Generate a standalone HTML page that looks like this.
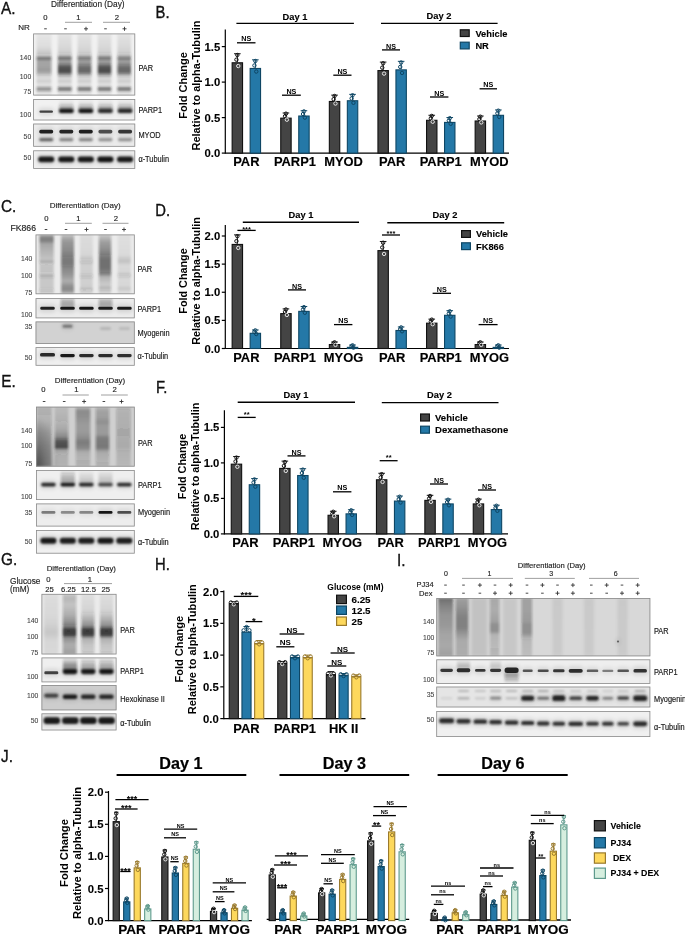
<!DOCTYPE html>
<html><head><meta charset="utf-8"><title>Figure</title>
<style>html,body{margin:0;padding:0;background:#fff;}body{width:685px;height:935px;overflow:hidden;}svg{display:block;filter:blur(0.35px);}
text{font-family:"Liberation Sans",Arial,sans-serif;}</style></head>
<body>
<svg width="685" height="935" viewBox="0 0 685 935" font-family="'Liberation Sans', Arial, sans-serif"><defs><filter id="b0_4" x="-100%" y="-100%" width="300%" height="300%"><feGaussianBlur stdDeviation="0.4"/></filter><filter id="b0_6" x="-100%" y="-100%" width="300%" height="300%"><feGaussianBlur stdDeviation="0.6"/></filter><filter id="b0_8" x="-100%" y="-100%" width="300%" height="300%"><feGaussianBlur stdDeviation="0.8"/></filter><filter id="b1_0" x="-100%" y="-100%" width="300%" height="300%"><feGaussianBlur stdDeviation="1"/></filter><filter id="b1_3" x="-100%" y="-100%" width="300%" height="300%"><feGaussianBlur stdDeviation="1.3"/></filter><filter id="b1_6" x="-100%" y="-100%" width="300%" height="300%"><feGaussianBlur stdDeviation="1.6"/></filter><filter id="b2_0" x="-100%" y="-100%" width="300%" height="300%"><feGaussianBlur stdDeviation="2"/></filter><filter id="b2_5" x="-100%" y="-100%" width="300%" height="300%"><feGaussianBlur stdDeviation="2.5"/></filter><filter id="b3_0" x="-100%" y="-100%" width="300%" height="300%"><feGaussianBlur stdDeviation="3"/></filter><filter id="b4_0" x="-100%" y="-100%" width="300%" height="300%"><feGaussianBlur stdDeviation="4"/></filter><linearGradient id="g1" x1="0" y1="0" x2="0" y2="1"><stop offset="0" stop-color="#1c1c1c" stop-opacity="0.05"/><stop offset="0.2" stop-color="#1c1c1c" stop-opacity="0.08"/><stop offset="0.29" stop-color="#1c1c1c" stop-opacity="0.15"/><stop offset="0.37" stop-color="#1c1c1c" stop-opacity="0.25"/><stop offset="0.38" stop-color="#1c1c1c" stop-opacity="0.6"/><stop offset="0.41" stop-color="#1c1c1c" stop-opacity="0.6"/><stop offset="0.43" stop-color="#1c1c1c" stop-opacity="0.36"/><stop offset="0.52" stop-color="#1c1c1c" stop-opacity="0.36"/><stop offset="0.59" stop-color="#1c1c1c" stop-opacity="0.4"/><stop offset="0.64" stop-color="#1c1c1c" stop-opacity="0.32"/><stop offset="0.68" stop-color="#1c1c1c" stop-opacity="0.12"/><stop offset="0.73" stop-color="#1c1c1c" stop-opacity="0.08"/><stop offset="0.76" stop-color="#1c1c1c" stop-opacity="0.15"/><stop offset="0.78" stop-color="#1c1c1c" stop-opacity="0.15"/><stop offset="0.8" stop-color="#1c1c1c" stop-opacity="0.07"/><stop offset="0.86" stop-color="#1c1c1c" stop-opacity="0.08"/><stop offset="0.87" stop-color="#1c1c1c" stop-opacity="0.42"/><stop offset="0.92" stop-color="#1c1c1c" stop-opacity="0.42"/><stop offset="0.93" stop-color="#1c1c1c" stop-opacity="0.08"/><stop offset="1" stop-color="#1c1c1c" stop-opacity="0.06"/></linearGradient><linearGradient id="g2" x1="0" y1="0" x2="0" y2="1"><stop offset="0" stop-color="#1c1c1c" stop-opacity="0.06"/><stop offset="0.2" stop-color="#1c1c1c" stop-opacity="0.1"/><stop offset="0.29" stop-color="#1c1c1c" stop-opacity="0.14"/><stop offset="0.36" stop-color="#1c1c1c" stop-opacity="0.26"/><stop offset="0.38" stop-color="#1c1c1c" stop-opacity="0.62"/><stop offset="0.41" stop-color="#1c1c1c" stop-opacity="0.62"/><stop offset="0.43" stop-color="#1c1c1c" stop-opacity="0.36"/><stop offset="0.47" stop-color="#1c1c1c" stop-opacity="0.42"/><stop offset="0.51" stop-color="#1c1c1c" stop-opacity="0.62"/><stop offset="0.54" stop-color="#1c1c1c" stop-opacity="0.74"/><stop offset="0.62" stop-color="#1c1c1c" stop-opacity="0.78"/><stop offset="0.66" stop-color="#1c1c1c" stop-opacity="0.39"/><stop offset="0.7" stop-color="#1c1c1c" stop-opacity="0.15"/><stop offset="0.73" stop-color="#1c1c1c" stop-opacity="0.08"/><stop offset="0.76" stop-color="#1c1c1c" stop-opacity="0.16"/><stop offset="0.78" stop-color="#1c1c1c" stop-opacity="0.16"/><stop offset="0.8" stop-color="#1c1c1c" stop-opacity="0.07"/><stop offset="0.86" stop-color="#1c1c1c" stop-opacity="0.1"/><stop offset="0.87" stop-color="#1c1c1c" stop-opacity="0.55"/><stop offset="0.92" stop-color="#1c1c1c" stop-opacity="0.55"/><stop offset="0.93" stop-color="#1c1c1c" stop-opacity="0.1"/><stop offset="1" stop-color="#1c1c1c" stop-opacity="0.06"/></linearGradient><linearGradient id="g3" x1="0" y1="0" x2="0" y2="1"><stop offset="0" stop-color="#1c1c1c" stop-opacity="0.06"/><stop offset="0.2" stop-color="#1c1c1c" stop-opacity="0.1"/><stop offset="0.29" stop-color="#1c1c1c" stop-opacity="0.14"/><stop offset="0.36" stop-color="#1c1c1c" stop-opacity="0.26"/><stop offset="0.38" stop-color="#1c1c1c" stop-opacity="0.58"/><stop offset="0.41" stop-color="#1c1c1c" stop-opacity="0.58"/><stop offset="0.43" stop-color="#1c1c1c" stop-opacity="0.36"/><stop offset="0.47" stop-color="#1c1c1c" stop-opacity="0.42"/><stop offset="0.51" stop-color="#1c1c1c" stop-opacity="0.53"/><stop offset="0.54" stop-color="#1c1c1c" stop-opacity="0.63"/><stop offset="0.62" stop-color="#1c1c1c" stop-opacity="0.66"/><stop offset="0.66" stop-color="#1c1c1c" stop-opacity="0.33"/><stop offset="0.7" stop-color="#1c1c1c" stop-opacity="0.15"/><stop offset="0.73" stop-color="#1c1c1c" stop-opacity="0.08"/><stop offset="0.76" stop-color="#1c1c1c" stop-opacity="0.16"/><stop offset="0.78" stop-color="#1c1c1c" stop-opacity="0.16"/><stop offset="0.8" stop-color="#1c1c1c" stop-opacity="0.07"/><stop offset="0.86" stop-color="#1c1c1c" stop-opacity="0.1"/><stop offset="0.87" stop-color="#1c1c1c" stop-opacity="0.55"/><stop offset="0.92" stop-color="#1c1c1c" stop-opacity="0.55"/><stop offset="0.93" stop-color="#1c1c1c" stop-opacity="0.1"/><stop offset="1" stop-color="#1c1c1c" stop-opacity="0.06"/></linearGradient><linearGradient id="g4" x1="0" y1="0" x2="0" y2="1"><stop offset="0" stop-color="#1c1c1c" stop-opacity="0.06"/><stop offset="0.2" stop-color="#1c1c1c" stop-opacity="0.1"/><stop offset="0.29" stop-color="#1c1c1c" stop-opacity="0.14"/><stop offset="0.36" stop-color="#1c1c1c" stop-opacity="0.26"/><stop offset="0.38" stop-color="#1c1c1c" stop-opacity="0.6"/><stop offset="0.41" stop-color="#1c1c1c" stop-opacity="0.6"/><stop offset="0.43" stop-color="#1c1c1c" stop-opacity="0.36"/><stop offset="0.47" stop-color="#1c1c1c" stop-opacity="0.42"/><stop offset="0.51" stop-color="#1c1c1c" stop-opacity="0.62"/><stop offset="0.54" stop-color="#1c1c1c" stop-opacity="0.74"/><stop offset="0.62" stop-color="#1c1c1c" stop-opacity="0.78"/><stop offset="0.66" stop-color="#1c1c1c" stop-opacity="0.39"/><stop offset="0.7" stop-color="#1c1c1c" stop-opacity="0.15"/><stop offset="0.73" stop-color="#1c1c1c" stop-opacity="0.08"/><stop offset="0.76" stop-color="#1c1c1c" stop-opacity="0.16"/><stop offset="0.78" stop-color="#1c1c1c" stop-opacity="0.16"/><stop offset="0.8" stop-color="#1c1c1c" stop-opacity="0.07"/><stop offset="0.86" stop-color="#1c1c1c" stop-opacity="0.1"/><stop offset="0.87" stop-color="#1c1c1c" stop-opacity="0.55"/><stop offset="0.92" stop-color="#1c1c1c" stop-opacity="0.55"/><stop offset="0.93" stop-color="#1c1c1c" stop-opacity="0.1"/><stop offset="1" stop-color="#1c1c1c" stop-opacity="0.06"/></linearGradient><linearGradient id="g5" x1="0" y1="0" x2="0" y2="1"><stop offset="0" stop-color="#1c1c1c" stop-opacity="0.06"/><stop offset="0.2" stop-color="#1c1c1c" stop-opacity="0.1"/><stop offset="0.29" stop-color="#1c1c1c" stop-opacity="0.14"/><stop offset="0.36" stop-color="#1c1c1c" stop-opacity="0.26"/><stop offset="0.38" stop-color="#1c1c1c" stop-opacity="0.56"/><stop offset="0.41" stop-color="#1c1c1c" stop-opacity="0.56"/><stop offset="0.43" stop-color="#1c1c1c" stop-opacity="0.36"/><stop offset="0.47" stop-color="#1c1c1c" stop-opacity="0.42"/><stop offset="0.51" stop-color="#1c1c1c" stop-opacity="0.53"/><stop offset="0.54" stop-color="#1c1c1c" stop-opacity="0.63"/><stop offset="0.62" stop-color="#1c1c1c" stop-opacity="0.66"/><stop offset="0.66" stop-color="#1c1c1c" stop-opacity="0.33"/><stop offset="0.7" stop-color="#1c1c1c" stop-opacity="0.15"/><stop offset="0.73" stop-color="#1c1c1c" stop-opacity="0.08"/><stop offset="0.76" stop-color="#1c1c1c" stop-opacity="0.16"/><stop offset="0.78" stop-color="#1c1c1c" stop-opacity="0.16"/><stop offset="0.8" stop-color="#1c1c1c" stop-opacity="0.07"/><stop offset="0.86" stop-color="#1c1c1c" stop-opacity="0.1"/><stop offset="0.87" stop-color="#1c1c1c" stop-opacity="0.55"/><stop offset="0.92" stop-color="#1c1c1c" stop-opacity="0.55"/><stop offset="0.93" stop-color="#1c1c1c" stop-opacity="0.1"/><stop offset="1" stop-color="#1c1c1c" stop-opacity="0.06"/></linearGradient><clipPath id="c1"><rect x="33.2" y="33.5" width="102" height="62"/></clipPath><linearGradient id="g6" x1="0" y1="0" x2="0" y2="1"><stop offset="0" stop-color="#1c1c1c" stop-opacity="0"/><stop offset="0.29" stop-color="#1c1c1c" stop-opacity="0.06"/><stop offset="0.5" stop-color="#1c1c1c" stop-opacity="0.2"/><stop offset="0.68" stop-color="#1c1c1c" stop-opacity="0.4"/><stop offset="0.82" stop-color="#1c1c1c" stop-opacity="0.3"/><stop offset="1" stop-color="#1c1c1c" stop-opacity="0"/></linearGradient><linearGradient id="g7" x1="0" y1="0" x2="0" y2="1"><stop offset="0" stop-color="#1c1c1c" stop-opacity="0"/><stop offset="0.29" stop-color="#1c1c1c" stop-opacity="0.06"/><stop offset="0.5" stop-color="#1c1c1c" stop-opacity="0.2"/><stop offset="0.68" stop-color="#1c1c1c" stop-opacity="0.4"/><stop offset="0.82" stop-color="#1c1c1c" stop-opacity="0.3"/><stop offset="1" stop-color="#1c1c1c" stop-opacity="0"/></linearGradient><linearGradient id="g8" x1="0" y1="0" x2="0" y2="1"><stop offset="0" stop-color="#1c1c1c" stop-opacity="0"/><stop offset="0.29" stop-color="#1c1c1c" stop-opacity="0.06"/><stop offset="0.5" stop-color="#1c1c1c" stop-opacity="0.2"/><stop offset="0.68" stop-color="#1c1c1c" stop-opacity="0.4"/><stop offset="0.82" stop-color="#1c1c1c" stop-opacity="0.3"/><stop offset="1" stop-color="#1c1c1c" stop-opacity="0"/></linearGradient><linearGradient id="g9" x1="0" y1="0" x2="0" y2="1"><stop offset="0" stop-color="#1c1c1c" stop-opacity="0"/><stop offset="0.29" stop-color="#1c1c1c" stop-opacity="0.06"/><stop offset="0.5" stop-color="#1c1c1c" stop-opacity="0.2"/><stop offset="0.68" stop-color="#1c1c1c" stop-opacity="0.4"/><stop offset="0.82" stop-color="#1c1c1c" stop-opacity="0.3"/><stop offset="1" stop-color="#1c1c1c" stop-opacity="0"/></linearGradient><clipPath id="c2"><rect x="33.2" y="99.1" width="102" height="21.3"/></clipPath><clipPath id="c3"><rect x="33.2" y="123.6" width="102" height="23.1"/></clipPath><clipPath id="c4"><rect x="33.2" y="150.4" width="102" height="18.5"/></clipPath><linearGradient id="g10" x1="0" y1="0" x2="0" y2="1"><stop offset="0" stop-color="#1c1c1c" stop-opacity="0.28"/><stop offset="0.06" stop-color="#1c1c1c" stop-opacity="0.52"/><stop offset="0.12" stop-color="#1c1c1c" stop-opacity="0.48"/><stop offset="0.15" stop-color="#1c1c1c" stop-opacity="0.34"/><stop offset="0.26" stop-color="#1c1c1c" stop-opacity="0.28"/><stop offset="0.42" stop-color="#1c1c1c" stop-opacity="0.2"/><stop offset="0.44" stop-color="#1c1c1c" stop-opacity="0.3"/><stop offset="0.47" stop-color="#1c1c1c" stop-opacity="0.3"/><stop offset="0.49" stop-color="#1c1c1c" stop-opacity="0.16"/><stop offset="0.66" stop-color="#1c1c1c" stop-opacity="0.17"/><stop offset="0.68" stop-color="#1c1c1c" stop-opacity="0.3"/><stop offset="0.71" stop-color="#1c1c1c" stop-opacity="0.3"/><stop offset="0.73" stop-color="#1c1c1c" stop-opacity="0.15"/><stop offset="0.9" stop-color="#1c1c1c" stop-opacity="0.15"/><stop offset="0.91" stop-color="#1c1c1c" stop-opacity="0.22"/><stop offset="0.94" stop-color="#1c1c1c" stop-opacity="0.22"/><stop offset="0.96" stop-color="#1c1c1c" stop-opacity="0.12"/><stop offset="1" stop-color="#1c1c1c" stop-opacity="0.12"/></linearGradient><linearGradient id="g11" x1="0" y1="0" x2="0" y2="1"><stop offset="0" stop-color="#1c1c1c" stop-opacity="0.2"/><stop offset="0.06" stop-color="#1c1c1c" stop-opacity="0.32"/><stop offset="0.12" stop-color="#1c1c1c" stop-opacity="0.4"/><stop offset="0.27" stop-color="#1c1c1c" stop-opacity="0.46"/><stop offset="0.42" stop-color="#1c1c1c" stop-opacity="0.56"/><stop offset="0.5" stop-color="#1c1c1c" stop-opacity="0.56"/><stop offset="0.56" stop-color="#1c1c1c" stop-opacity="0.47"/><stop offset="0.66" stop-color="#1c1c1c" stop-opacity="0.42"/><stop offset="0.78" stop-color="#1c1c1c" stop-opacity="0.3"/><stop offset="0.88" stop-color="#1c1c1c" stop-opacity="0.45"/><stop offset="0.94" stop-color="#1c1c1c" stop-opacity="0.45"/><stop offset="0.97" stop-color="#1c1c1c" stop-opacity="0.3"/><stop offset="1" stop-color="#1c1c1c" stop-opacity="0.25"/></linearGradient><linearGradient id="g12" x1="0" y1="0" x2="0" y2="1"><stop offset="0" stop-color="#1c1c1c" stop-opacity="0.06"/><stop offset="0.34" stop-color="#1c1c1c" stop-opacity="0.09"/><stop offset="0.44" stop-color="#1c1c1c" stop-opacity="0.2"/><stop offset="0.47" stop-color="#1c1c1c" stop-opacity="0.2"/><stop offset="0.51" stop-color="#1c1c1c" stop-opacity="0.11"/><stop offset="0.65" stop-color="#1c1c1c" stop-opacity="0.12"/><stop offset="0.68" stop-color="#1c1c1c" stop-opacity="0.22"/><stop offset="0.71" stop-color="#1c1c1c" stop-opacity="0.22"/><stop offset="0.75" stop-color="#1c1c1c" stop-opacity="0.11"/><stop offset="0.88" stop-color="#1c1c1c" stop-opacity="0.12"/><stop offset="0.9" stop-color="#1c1c1c" stop-opacity="0.2"/><stop offset="0.93" stop-color="#1c1c1c" stop-opacity="0.2"/><stop offset="0.96" stop-color="#1c1c1c" stop-opacity="0.1"/><stop offset="1" stop-color="#1c1c1c" stop-opacity="0.08"/></linearGradient><linearGradient id="g13" x1="0" y1="0" x2="0" y2="1"><stop offset="0" stop-color="#1c1c1c" stop-opacity="0.18"/><stop offset="0.06" stop-color="#1c1c1c" stop-opacity="0.26"/><stop offset="0.12" stop-color="#1c1c1c" stop-opacity="0.36"/><stop offset="0.27" stop-color="#1c1c1c" stop-opacity="0.46"/><stop offset="0.42" stop-color="#1c1c1c" stop-opacity="0.6"/><stop offset="0.56" stop-color="#1c1c1c" stop-opacity="0.6"/><stop offset="0.66" stop-color="#1c1c1c" stop-opacity="0.5"/><stop offset="0.71" stop-color="#1c1c1c" stop-opacity="0.27"/><stop offset="0.85" stop-color="#1c1c1c" stop-opacity="0.16"/><stop offset="0.88" stop-color="#1c1c1c" stop-opacity="0.25"/><stop offset="0.91" stop-color="#1c1c1c" stop-opacity="0.25"/><stop offset="0.95" stop-color="#1c1c1c" stop-opacity="0.12"/><stop offset="1" stop-color="#1c1c1c" stop-opacity="0.1"/></linearGradient><linearGradient id="g14" x1="0" y1="0" x2="0" y2="1"><stop offset="0" stop-color="#1c1c1c" stop-opacity="0.05"/><stop offset="0.34" stop-color="#1c1c1c" stop-opacity="0.07"/><stop offset="0.43" stop-color="#1c1c1c" stop-opacity="0.17"/><stop offset="0.46" stop-color="#1c1c1c" stop-opacity="0.17"/><stop offset="0.51" stop-color="#1c1c1c" stop-opacity="0.08"/><stop offset="0.64" stop-color="#1c1c1c" stop-opacity="0.09"/><stop offset="0.66" stop-color="#1c1c1c" stop-opacity="0.19"/><stop offset="0.7" stop-color="#1c1c1c" stop-opacity="0.19"/><stop offset="0.73" stop-color="#1c1c1c" stop-opacity="0.08"/><stop offset="0.87" stop-color="#1c1c1c" stop-opacity="0.09"/><stop offset="0.89" stop-color="#1c1c1c" stop-opacity="0.15"/><stop offset="0.92" stop-color="#1c1c1c" stop-opacity="0.15"/><stop offset="0.95" stop-color="#1c1c1c" stop-opacity="0.07"/><stop offset="1" stop-color="#1c1c1c" stop-opacity="0.06"/></linearGradient><clipPath id="c5"><rect x="35.6" y="234.5" width="99.1" height="59.7"/></clipPath><linearGradient id="g15" x1="0" y1="0" x2="0" y2="1"><stop offset="0" stop-color="#1c1c1c" stop-opacity="0.12"/><stop offset="0.27" stop-color="#1c1c1c" stop-opacity="0.28"/><stop offset="0.55" stop-color="#1c1c1c" stop-opacity="0.3"/><stop offset="0.77" stop-color="#1c1c1c" stop-opacity="0.25"/><stop offset="1" stop-color="#1c1c1c" stop-opacity="0"/></linearGradient><linearGradient id="g16" x1="0" y1="0" x2="0" y2="1"><stop offset="0" stop-color="#1c1c1c" stop-opacity="0.12"/><stop offset="0.27" stop-color="#1c1c1c" stop-opacity="0.28"/><stop offset="0.55" stop-color="#1c1c1c" stop-opacity="0.3"/><stop offset="0.77" stop-color="#1c1c1c" stop-opacity="0.25"/><stop offset="1" stop-color="#1c1c1c" stop-opacity="0"/></linearGradient><clipPath id="c6"><rect x="35.6" y="298.2" width="99.1" height="20.1"/></clipPath><clipPath id="c7"><rect x="35.6" y="321.5" width="99.1" height="22.5"/></clipPath><clipPath id="c8"><rect x="35.6" y="347.2" width="99.1" height="18.5"/></clipPath><linearGradient id="g17" x1="0" y1="0" x2="0" y2="1"><stop offset="0" stop-color="#1c1c1c" stop-opacity="0.14"/><stop offset="0.22" stop-color="#1c1c1c" stop-opacity="0.18"/><stop offset="0.42" stop-color="#1c1c1c" stop-opacity="0.28"/><stop offset="0.64" stop-color="#1c1c1c" stop-opacity="0.32"/><stop offset="1" stop-color="#1c1c1c" stop-opacity="0.34"/></linearGradient><linearGradient id="g18" x1="0" y1="0" x2="0" y2="1"><stop offset="0" stop-color="#1c1c1c" stop-opacity="0.1"/><stop offset="0.22" stop-color="#1c1c1c" stop-opacity="0.15"/><stop offset="0.39" stop-color="#1c1c1c" stop-opacity="0.24"/><stop offset="0.51" stop-color="#1c1c1c" stop-opacity="0.4"/><stop offset="0.57" stop-color="#1c1c1c" stop-opacity="0.68"/><stop offset="0.69" stop-color="#1c1c1c" stop-opacity="0.75"/><stop offset="0.71" stop-color="#1c1c1c" stop-opacity="0.3"/><stop offset="0.81" stop-color="#1c1c1c" stop-opacity="0.16"/><stop offset="1" stop-color="#1c1c1c" stop-opacity="0.14"/></linearGradient><linearGradient id="g19" x1="0" y1="0" x2="0" y2="1"><stop offset="0" stop-color="#1c1c1c" stop-opacity="0.15"/><stop offset="0.07" stop-color="#1c1c1c" stop-opacity="0.38"/><stop offset="0.16" stop-color="#1c1c1c" stop-opacity="0.36"/><stop offset="0.29" stop-color="#1c1c1c" stop-opacity="0.3"/><stop offset="0.42" stop-color="#1c1c1c" stop-opacity="0.3"/><stop offset="0.51" stop-color="#1c1c1c" stop-opacity="0.36"/><stop offset="0.59" stop-color="#1c1c1c" stop-opacity="0.46"/><stop offset="0.69" stop-color="#1c1c1c" stop-opacity="0.4"/><stop offset="0.76" stop-color="#1c1c1c" stop-opacity="0.2"/><stop offset="1" stop-color="#1c1c1c" stop-opacity="0.14"/></linearGradient><linearGradient id="g20" x1="0" y1="0" x2="0" y2="1"><stop offset="0" stop-color="#1c1c1c" stop-opacity="0.15"/><stop offset="0.07" stop-color="#1c1c1c" stop-opacity="0.26"/><stop offset="0.17" stop-color="#1c1c1c" stop-opacity="0.28"/><stop offset="0.26" stop-color="#1c1c1c" stop-opacity="0.36"/><stop offset="0.32" stop-color="#1c1c1c" stop-opacity="0.3"/><stop offset="0.46" stop-color="#1c1c1c" stop-opacity="0.3"/><stop offset="0.52" stop-color="#1c1c1c" stop-opacity="0.45"/><stop offset="0.68" stop-color="#1c1c1c" stop-opacity="0.48"/><stop offset="0.76" stop-color="#1c1c1c" stop-opacity="0.22"/><stop offset="1" stop-color="#1c1c1c" stop-opacity="0.14"/></linearGradient><linearGradient id="g21" x1="0" y1="0" x2="0" y2="1"><stop offset="0" stop-color="#1c1c1c" stop-opacity="0.1"/><stop offset="0.07" stop-color="#1c1c1c" stop-opacity="0.18"/><stop offset="0.39" stop-color="#1c1c1c" stop-opacity="0.2"/><stop offset="0.67" stop-color="#1c1c1c" stop-opacity="0.22"/><stop offset="0.76" stop-color="#1c1c1c" stop-opacity="0.14"/><stop offset="1" stop-color="#1c1c1c" stop-opacity="0.12"/></linearGradient><clipPath id="c9"><rect x="36.1" y="406.7" width="98.6" height="59.9"/></clipPath><linearGradient id="g22" x1="0" y1="0" x2="0" y2="1"><stop offset="0" stop-color="#1c1c1c" stop-opacity="0"/><stop offset="0.27" stop-color="#1c1c1c" stop-opacity="0.17"/><stop offset="0.53" stop-color="#1c1c1c" stop-opacity="0.28"/><stop offset="0.8" stop-color="#1c1c1c" stop-opacity="0.28"/><stop offset="1" stop-color="#1c1c1c" stop-opacity="0"/></linearGradient><linearGradient id="g23" x1="0" y1="0" x2="0" y2="1"><stop offset="0" stop-color="#1c1c1c" stop-opacity="0"/><stop offset="0.27" stop-color="#1c1c1c" stop-opacity="0.07"/><stop offset="0.53" stop-color="#1c1c1c" stop-opacity="0.12"/><stop offset="0.8" stop-color="#1c1c1c" stop-opacity="0.12"/><stop offset="1" stop-color="#1c1c1c" stop-opacity="0"/></linearGradient><linearGradient id="g24" x1="0" y1="0" x2="0" y2="1"><stop offset="0" stop-color="#1c1c1c" stop-opacity="0"/><stop offset="0.27" stop-color="#1c1c1c" stop-opacity="0.08"/><stop offset="0.53" stop-color="#1c1c1c" stop-opacity="0.14"/><stop offset="0.8" stop-color="#1c1c1c" stop-opacity="0.14"/><stop offset="1" stop-color="#1c1c1c" stop-opacity="0"/></linearGradient><clipPath id="c10"><rect x="36.1" y="470.1" width="98.6" height="29.9"/></clipPath><clipPath id="c11"><rect x="36.1" y="503.5" width="98.6" height="23"/></clipPath><clipPath id="c12"><rect x="36.1" y="530" width="98.6" height="23.6"/></clipPath><linearGradient id="g25" x1="0" y1="0" x2="0" y2="1"><stop offset="0" stop-color="#1c1c1c" stop-opacity="0.06"/><stop offset="0.35" stop-color="#1c1c1c" stop-opacity="0.08"/><stop offset="0.51" stop-color="#1c1c1c" stop-opacity="0.11"/><stop offset="0.6" stop-color="#1c1c1c" stop-opacity="0.15"/><stop offset="0.66" stop-color="#1c1c1c" stop-opacity="0.15"/><stop offset="0.76" stop-color="#1c1c1c" stop-opacity="0.09"/><stop offset="1" stop-color="#1c1c1c" stop-opacity="0.08"/></linearGradient><linearGradient id="g26" x1="0" y1="0" x2="0" y2="1"><stop offset="0" stop-color="#1c1c1c" stop-opacity="0.18"/><stop offset="0.07" stop-color="#1c1c1c" stop-opacity="0.26"/><stop offset="0.18" stop-color="#1c1c1c" stop-opacity="0.2"/><stop offset="0.35" stop-color="#1c1c1c" stop-opacity="0.3"/><stop offset="0.46" stop-color="#1c1c1c" stop-opacity="0.42"/><stop offset="0.55" stop-color="#1c1c1c" stop-opacity="0.58"/><stop offset="0.59" stop-color="#1c1c1c" stop-opacity="0.85"/><stop offset="0.68" stop-color="#1c1c1c" stop-opacity="0.85"/><stop offset="0.72" stop-color="#1c1c1c" stop-opacity="0.45"/><stop offset="0.84" stop-color="#1c1c1c" stop-opacity="0.3"/><stop offset="0.96" stop-color="#1c1c1c" stop-opacity="0.35"/><stop offset="1" stop-color="#1c1c1c" stop-opacity="0.4"/></linearGradient><linearGradient id="g27" x1="0" y1="0" x2="0" y2="1"><stop offset="0" stop-color="#1c1c1c" stop-opacity="0.05"/><stop offset="0.27" stop-color="#1c1c1c" stop-opacity="0.1"/><stop offset="0.43" stop-color="#1c1c1c" stop-opacity="0.3"/><stop offset="0.53" stop-color="#1c1c1c" stop-opacity="0.45"/><stop offset="0.59" stop-color="#1c1c1c" stop-opacity="0.85"/><stop offset="0.68" stop-color="#1c1c1c" stop-opacity="0.85"/><stop offset="0.73" stop-color="#1c1c1c" stop-opacity="0.3"/><stop offset="0.84" stop-color="#1c1c1c" stop-opacity="0.2"/><stop offset="1" stop-color="#1c1c1c" stop-opacity="0.15"/></linearGradient><linearGradient id="g28" x1="0" y1="0" x2="0" y2="1"><stop offset="0" stop-color="#1c1c1c" stop-opacity="0.05"/><stop offset="0.27" stop-color="#1c1c1c" stop-opacity="0.1"/><stop offset="0.43" stop-color="#1c1c1c" stop-opacity="0.3"/><stop offset="0.53" stop-color="#1c1c1c" stop-opacity="0.45"/><stop offset="0.59" stop-color="#1c1c1c" stop-opacity="0.85"/><stop offset="0.68" stop-color="#1c1c1c" stop-opacity="0.85"/><stop offset="0.73" stop-color="#1c1c1c" stop-opacity="0.3"/><stop offset="0.84" stop-color="#1c1c1c" stop-opacity="0.2"/><stop offset="1" stop-color="#1c1c1c" stop-opacity="0.15"/></linearGradient><clipPath id="c13"><rect x="41.5" y="593.9" width="75" height="60.5"/></clipPath><linearGradient id="g29" x1="0" y1="0" x2="0" y2="1"><stop offset="0" stop-color="#1c1c1c" stop-opacity="0"/><stop offset="0.24" stop-color="#1c1c1c" stop-opacity="0.21"/><stop offset="0.52" stop-color="#1c1c1c" stop-opacity="0.42"/><stop offset="0.79" stop-color="#1c1c1c" stop-opacity="0.42"/><stop offset="1" stop-color="#1c1c1c" stop-opacity="0"/></linearGradient><linearGradient id="g30" x1="0" y1="0" x2="0" y2="1"><stop offset="0" stop-color="#1c1c1c" stop-opacity="0"/><stop offset="0.24" stop-color="#1c1c1c" stop-opacity="0.15"/><stop offset="0.52" stop-color="#1c1c1c" stop-opacity="0.3"/><stop offset="0.79" stop-color="#1c1c1c" stop-opacity="0.3"/><stop offset="1" stop-color="#1c1c1c" stop-opacity="0"/></linearGradient><linearGradient id="g31" x1="0" y1="0" x2="0" y2="1"><stop offset="0" stop-color="#1c1c1c" stop-opacity="0"/><stop offset="0.24" stop-color="#1c1c1c" stop-opacity="0.15"/><stop offset="0.52" stop-color="#1c1c1c" stop-opacity="0.3"/><stop offset="0.79" stop-color="#1c1c1c" stop-opacity="0.3"/><stop offset="1" stop-color="#1c1c1c" stop-opacity="0"/></linearGradient><clipPath id="c14"><rect x="41.5" y="657.5" width="75" height="24.8"/></clipPath><clipPath id="c15"><rect x="41.5" y="685" width="75" height="25.3"/></clipPath><clipPath id="c16"><rect x="41.5" y="713.4" width="75" height="17"/></clipPath><linearGradient id="g32" x1="0" y1="0" x2="0" y2="1"><stop offset="0" stop-color="#1c1c1c" stop-opacity="0.55"/><stop offset="0.12" stop-color="#1c1c1c" stop-opacity="0.45"/><stop offset="0.29" stop-color="#1c1c1c" stop-opacity="0.36"/><stop offset="0.46" stop-color="#1c1c1c" stop-opacity="0.34"/><stop offset="0.63" stop-color="#1c1c1c" stop-opacity="0.28"/><stop offset="0.81" stop-color="#1c1c1c" stop-opacity="0.26"/><stop offset="1" stop-color="#1c1c1c" stop-opacity="0.3"/></linearGradient><linearGradient id="g33" x1="0" y1="0" x2="0" y2="1"><stop offset="0" stop-color="#1c1c1c" stop-opacity="0.3"/><stop offset="0.12" stop-color="#1c1c1c" stop-opacity="0.35"/><stop offset="0.33" stop-color="#1c1c1c" stop-opacity="0.45"/><stop offset="0.51" stop-color="#1c1c1c" stop-opacity="0.45"/><stop offset="0.58" stop-color="#1c1c1c" stop-opacity="0.38"/><stop offset="0.72" stop-color="#1c1c1c" stop-opacity="0.25"/><stop offset="1" stop-color="#1c1c1c" stop-opacity="0.24"/></linearGradient><linearGradient id="g34" x1="0" y1="0" x2="0" y2="1"><stop offset="0" stop-color="#1c1c1c" stop-opacity="0.1"/><stop offset="1" stop-color="#1c1c1c" stop-opacity="0.1"/></linearGradient><linearGradient id="g35" x1="0" y1="0" x2="0" y2="1"><stop offset="0" stop-color="#1c1c1c" stop-opacity="0.26"/><stop offset="0.21" stop-color="#1c1c1c" stop-opacity="0.24"/><stop offset="0.41" stop-color="#1c1c1c" stop-opacity="0.3"/><stop offset="0.45" stop-color="#1c1c1c" stop-opacity="0.38"/><stop offset="0.57" stop-color="#1c1c1c" stop-opacity="0.38"/><stop offset="0.63" stop-color="#1c1c1c" stop-opacity="0.2"/><stop offset="1" stop-color="#1c1c1c" stop-opacity="0.15"/></linearGradient><linearGradient id="g36" x1="0" y1="0" x2="0" y2="1"><stop offset="0" stop-color="#1c1c1c" stop-opacity="0.08"/><stop offset="1" stop-color="#1c1c1c" stop-opacity="0.08"/></linearGradient><linearGradient id="g37" x1="0" y1="0" x2="0" y2="1"><stop offset="0" stop-color="#1c1c1c" stop-opacity="0.3"/><stop offset="0.21" stop-color="#1c1c1c" stop-opacity="0.3"/><stop offset="0.41" stop-color="#1c1c1c" stop-opacity="0.33"/><stop offset="0.45" stop-color="#1c1c1c" stop-opacity="0.38"/><stop offset="0.6" stop-color="#1c1c1c" stop-opacity="0.38"/><stop offset="0.72" stop-color="#1c1c1c" stop-opacity="0.15"/><stop offset="1" stop-color="#1c1c1c" stop-opacity="0.12"/></linearGradient><linearGradient id="g38" x1="0" y1="0" x2="0" y2="1"><stop offset="0" stop-color="#1c1c1c" stop-opacity="0.07"/><stop offset="1" stop-color="#1c1c1c" stop-opacity="0.06"/></linearGradient><linearGradient id="g39" x1="0" y1="0" x2="0" y2="1"><stop offset="0" stop-color="#1c1c1c" stop-opacity="0.07"/><stop offset="1" stop-color="#1c1c1c" stop-opacity="0.06"/></linearGradient><linearGradient id="g40" x1="0" y1="0" x2="0" y2="1"><stop offset="0" stop-color="#1c1c1c" stop-opacity="0.07"/><stop offset="1" stop-color="#1c1c1c" stop-opacity="0.06"/></linearGradient><clipPath id="c17"><rect x="436.3" y="598" width="214" height="58.3"/></clipPath><linearGradient id="g41" x1="0" y1="0" x2="0" y2="1"><stop offset="0" stop-color="#1c1c1c" stop-opacity="0"/><stop offset="0.38" stop-color="#1c1c1c" stop-opacity="0.12"/><stop offset="0.79" stop-color="#1c1c1c" stop-opacity="0.2"/><stop offset="1" stop-color="#1c1c1c" stop-opacity="0"/></linearGradient><linearGradient id="g42" x1="0" y1="0" x2="0" y2="1"><stop offset="0" stop-color="#1c1c1c" stop-opacity="0"/><stop offset="0.38" stop-color="#1c1c1c" stop-opacity="0.1"/><stop offset="0.79" stop-color="#1c1c1c" stop-opacity="0.14"/><stop offset="1" stop-color="#1c1c1c" stop-opacity="0"/></linearGradient><linearGradient id="g43" x1="0" y1="0" x2="0" y2="1"><stop offset="0" stop-color="#1c1c1c" stop-opacity="0"/><stop offset="0.23" stop-color="#1c1c1c" stop-opacity="0.35"/><stop offset="0.54" stop-color="#1c1c1c" stop-opacity="0.28"/><stop offset="0.85" stop-color="#1c1c1c" stop-opacity="0.08"/><stop offset="1" stop-color="#1c1c1c" stop-opacity="0"/></linearGradient><clipPath id="c18"><rect x="436.3" y="659.4" width="214" height="24.5"/></clipPath><clipPath id="c19"><rect x="436.3" y="686.6" width="214" height="20.8"/></clipPath><clipPath id="c20"><rect x="436.3" y="711" width="214" height="26"/></clipPath></defs><rect width="685" height="935" fill="#fff"/><text transform="translate(1 13.5) scale(0.89 1)" font-size="17.25" fill="#111" stroke="#111" stroke-width="0.35">A.</text>
<text x="87.8" y="7" font-size="8.3" text-anchor="middle" fill="#1e1e1e" stroke="#1e1e1e" stroke-width="0.15">Differentiation (Day)</text>
<text x="45.5" y="19.5" font-size="7.7" text-anchor="middle" fill="#1e1e1e" stroke="#1e1e1e" stroke-width="0.15">0</text>
<text x="78.5" y="19.5" font-size="7.7" text-anchor="middle" fill="#1e1e1e" stroke="#1e1e1e" stroke-width="0.15">1</text>
<text x="117" y="19.5" font-size="7.7" text-anchor="middle" fill="#1e1e1e" stroke="#1e1e1e" stroke-width="0.15">2</text>
<line x1="65" y1="22.3" x2="92" y2="22.3" stroke="#888" stroke-width="0.8"/>
<line x1="103" y1="22.3" x2="130" y2="22.3" stroke="#888" stroke-width="0.8"/>
<text x="29.8" y="30" font-size="8" text-anchor="end" fill="#1e1e1e" stroke="#1e1e1e" stroke-width="0.15">NR</text>
<line x1="44.2" y1="28.8" x2="46.8" y2="28.8" stroke="#333" stroke-width="0.9"/>
<line x1="64.2" y1="28.8" x2="66.8" y2="28.8" stroke="#333" stroke-width="0.9"/>
<line x1="84" y1="28.8" x2="88" y2="28.8" stroke="#333" stroke-width="0.9"/>
<line x1="86" y1="26.8" x2="86" y2="30.8" stroke="#333" stroke-width="0.9"/>
<line x1="104.2" y1="28.8" x2="106.8" y2="28.8" stroke="#333" stroke-width="0.9"/>
<line x1="122.5" y1="28.8" x2="126.5" y2="28.8" stroke="#333" stroke-width="0.9"/>
<line x1="124.5" y1="26.8" x2="124.5" y2="30.8" stroke="#333" stroke-width="0.9"/>
<rect x="33.2" y="33.5" width="102" height="62" fill="#f1f1f1" stroke="none" stroke-width="1"/>
<g clip-path="url(#c1)">
<rect x="36.5" y="34" width="14.9" height="61.5" fill="url(#g1)" filter="url(#b1_0)"/>
<rect x="57.85" y="34" width="13.8" height="61.5" fill="url(#g2)" filter="url(#b1_0)"/>
<rect x="77.55" y="34" width="13.8" height="61.5" fill="url(#g3)" filter="url(#b1_0)"/>
<rect x="97.7" y="34" width="13.6" height="61.5" fill="url(#g4)" filter="url(#b1_0)"/>
<rect x="117.4" y="34" width="13.6" height="61.5" fill="url(#g5)" filter="url(#b1_0)"/>
</g>
<rect x="33.6" y="33.9" width="101.2" height="61.2" fill="none" stroke="#8a8a8a" stroke-width="0.8"/>
<text x="0" y="0" font-size="7.2" text-anchor="end" fill="#444" transform="translate(31.2 60) scale(0.95 1)" stroke="#444" stroke-width="0.1">140</text>
<text x="0" y="0" font-size="7.2" text-anchor="end" fill="#444" transform="translate(31.2 79.4) scale(0.95 1)" stroke="#444" stroke-width="0.1">100</text>
<text x="0" y="0" font-size="7.2" text-anchor="end" fill="#444" transform="translate(31.2 93.8) scale(0.95 1)" stroke="#444" stroke-width="0.1">75</text>
<text x="0" y="0" font-size="8.2" text-anchor="start" fill="#1e1e1e" transform="translate(138.4 71.2) scale(0.9 1)" stroke="#1e1e1e" stroke-width="0.18">PAR</text>
<rect x="33.2" y="99.1" width="102" height="21.3" fill="#f1f1f1" stroke="none" stroke-width="1"/>
<g clip-path="url(#c2)">
<rect x="59.3" y="99" width="14" height="14" fill="url(#g6)" filter="url(#b1_0)"/>
<rect x="78.8" y="99" width="14" height="14" fill="url(#g7)" filter="url(#b1_0)"/>
<rect x="98.4" y="99" width="14" height="14" fill="url(#g8)" filter="url(#b1_0)"/>
<rect x="118.1" y="99" width="14" height="14" fill="url(#g9)" filter="url(#b1_0)"/>
<rect x="38.45" y="108" width="15.5" height="7.2" rx="3" fill="#000" opacity="0.1" filter="url(#b2_0)"/>
<rect x="39.45" y="110.5" width="13.5" height="2.2" rx="0.99" fill="#1c1c1c" opacity="0.8" filter="url(#b0_6)"/>
<rect x="58.05" y="106.6" width="16.5" height="8.8" rx="3" fill="#000" opacity="0.11" filter="url(#b2_0)"/>
<rect x="59.05" y="109.1" width="14.5" height="3.8" rx="1.71" fill="#000" opacity="0.88" filter="url(#b0_8)"/>
<rect x="77.55" y="106.6" width="16.5" height="8.8" rx="3" fill="#000" opacity="0.11" filter="url(#b2_0)"/>
<rect x="78.55" y="109.1" width="14.5" height="3.8" rx="1.71" fill="#000" opacity="0.88" filter="url(#b0_8)"/>
<rect x="97.15" y="106.6" width="16.5" height="8.8" rx="3" fill="#000" opacity="0.09" filter="url(#b2_0)"/>
<rect x="98.15" y="109.1" width="14.5" height="3.8" rx="1.71" fill="#000" opacity="0.75" filter="url(#b0_8)"/>
<rect x="116.85" y="106.6" width="16.5" height="8.8" rx="3" fill="#000" opacity="0.09" filter="url(#b2_0)"/>
<rect x="117.85" y="109.1" width="14.5" height="3.8" rx="1.71" fill="#000" opacity="0.78" filter="url(#b0_8)"/>
</g>
<rect x="33.6" y="99.5" width="101.2" height="20.5" fill="none" stroke="#8a8a8a" stroke-width="0.8"/>
<text x="0" y="0" font-size="7.2" text-anchor="end" fill="#444" transform="translate(31.2 116.6) scale(0.95 1)" stroke="#444" stroke-width="0.1">100</text>
<text x="0" y="0" font-size="8.2" text-anchor="start" fill="#1e1e1e" transform="translate(138.4 112.8) scale(0.9 1)" stroke="#1e1e1e" stroke-width="0.18">PARP1</text>
<rect x="33.2" y="123.6" width="102" height="23.1" fill="#ececec" stroke="none" stroke-width="1"/>
<g clip-path="url(#c3)">
<rect x="38.2" y="127.3" width="16" height="8.6" rx="3" fill="#000" opacity="0.1" filter="url(#b2_0)"/>
<rect x="39.2" y="129.8" width="14" height="3.6" rx="1.62" fill="#000" opacity="0.85" filter="url(#b0_6)"/>
<rect x="58.3" y="127.3" width="16" height="8.6" rx="3" fill="#000" opacity="0.1" filter="url(#b2_0)"/>
<rect x="59.3" y="129.8" width="14" height="3.6" rx="1.62" fill="#000" opacity="0.82" filter="url(#b0_6)"/>
<rect x="77.8" y="127.3" width="16" height="8.6" rx="3" fill="#000" opacity="0.1" filter="url(#b2_0)"/>
<rect x="78.8" y="129.8" width="14" height="3.6" rx="1.62" fill="#000" opacity="0.85" filter="url(#b0_6)"/>
<rect x="97.4" y="127.3" width="16" height="8.6" rx="3" fill="#000" opacity="0.08" filter="url(#b2_0)"/>
<rect x="98.4" y="129.8" width="14" height="3.6" rx="1.62" fill="#000" opacity="0.65" filter="url(#b0_6)"/>
<rect x="117.1" y="127.3" width="16" height="8.6" rx="3" fill="#000" opacity="0.09" filter="url(#b2_0)"/>
<rect x="118.1" y="129.8" width="14" height="3.6" rx="1.62" fill="#000" opacity="0.75" filter="url(#b0_6)"/>
<rect x="38.2" y="135.5" width="16" height="8.2" rx="3" fill="#000" opacity="0.07" filter="url(#b2_0)"/>
<rect x="39.2" y="138" width="14" height="3.2" rx="1.44" fill="#000" opacity="0.55" filter="url(#b0_8)"/>
<rect x="58.3" y="135.5" width="16" height="8.2" rx="3" fill="#000" opacity="0.05" filter="url(#b2_0)"/>
<rect x="59.3" y="138" width="14" height="3.2" rx="1.44" fill="#000" opacity="0.4" filter="url(#b0_8)"/>
<rect x="77.8" y="135.5" width="16" height="8.2" rx="3" fill="#000" opacity="0.05" filter="url(#b2_0)"/>
<rect x="78.8" y="138" width="14" height="3.2" rx="1.44" fill="#000" opacity="0.4" filter="url(#b0_8)"/>
<rect x="97.4" y="135.5" width="16" height="8.2" rx="3" fill="#000" opacity="0.04" filter="url(#b2_0)"/>
<rect x="98.4" y="138" width="14" height="3.2" rx="1.44" fill="#000" opacity="0.35" filter="url(#b0_8)"/>
<rect x="117.1" y="135.5" width="16" height="8.2" rx="3" fill="#000" opacity="0.04" filter="url(#b2_0)"/>
<rect x="118.1" y="138" width="14" height="3.2" rx="1.44" fill="#000" opacity="0.35" filter="url(#b0_8)"/>
</g>
<rect x="33.6" y="124" width="101.2" height="22.3" fill="none" stroke="#8a8a8a" stroke-width="0.8"/>
<text x="0" y="0" font-size="7.2" text-anchor="end" fill="#444" transform="translate(31.2 139) scale(0.95 1)" stroke="#444" stroke-width="0.1">50</text>
<text x="0" y="0" font-size="8.2" text-anchor="start" fill="#1e1e1e" transform="translate(138.4 138) scale(0.9 1)" stroke="#1e1e1e" stroke-width="0.18">MYOD</text>
<rect x="33.2" y="150.4" width="102" height="18.5" fill="#f0f0f0" stroke="none" stroke-width="1"/>
<g clip-path="url(#c4)">
<rect x="37.2" y="153.9" width="18" height="10.8" rx="3" fill="#000" opacity="0.11" filter="url(#b2_0)"/>
<rect x="38.2" y="156.4" width="16" height="5.8" rx="2.61" fill="#000" opacity="0.88" filter="url(#b0_8)"/>
<rect x="57.3" y="153.9" width="18" height="10.8" rx="3" fill="#000" opacity="0.11" filter="url(#b2_0)"/>
<rect x="58.3" y="156.4" width="16" height="5.8" rx="2.61" fill="#000" opacity="0.88" filter="url(#b0_8)"/>
<rect x="76.8" y="153.9" width="18" height="10.8" rx="3" fill="#000" opacity="0.11" filter="url(#b2_0)"/>
<rect x="77.8" y="156.4" width="16" height="5.8" rx="2.61" fill="#000" opacity="0.88" filter="url(#b0_8)"/>
<rect x="96.4" y="153.9" width="18" height="10.8" rx="3" fill="#000" opacity="0.11" filter="url(#b2_0)"/>
<rect x="97.4" y="156.4" width="16" height="5.8" rx="2.61" fill="#000" opacity="0.9" filter="url(#b0_8)"/>
<rect x="116.1" y="153.9" width="18" height="10.8" rx="3" fill="#000" opacity="0.11" filter="url(#b2_0)"/>
<rect x="117.1" y="156.4" width="16" height="5.8" rx="2.61" fill="#000" opacity="0.88" filter="url(#b0_8)"/>
</g>
<rect x="33.6" y="150.8" width="101.2" height="17.7" fill="none" stroke="#8a8a8a" stroke-width="0.8"/>
<text x="0" y="0" font-size="7.2" text-anchor="end" fill="#444" transform="translate(31.2 160) scale(0.95 1)" stroke="#444" stroke-width="0.1">50</text>
<text x="0" y="0" font-size="8.2" text-anchor="start" fill="#1e1e1e" transform="translate(138.4 161.7) scale(0.9 1)" stroke="#1e1e1e" stroke-width="0.18">α-Tubulin</text>
<text transform="translate(155.5 17.5) scale(0.89 1)" font-size="16.67" fill="#111" stroke="#111" stroke-width="0.35">B.</text>
<line x1="225.3" y1="29.5" x2="225.3" y2="153.7" stroke="#000" stroke-width="1.2"/>
<line x1="221.8" y1="153.1" x2="225.3" y2="153.1" stroke="#000" stroke-width="1.2"/>
<text x="220.3" y="157.17" font-size="11.3" font-weight="bold" text-anchor="end" fill="#000" stroke="#000" stroke-width="0.1">0.0</text>
<line x1="221.8" y1="117.6" x2="225.3" y2="117.6" stroke="#000" stroke-width="1.2"/>
<text x="220.3" y="121.67" font-size="11.3" font-weight="bold" text-anchor="end" fill="#000" stroke="#000" stroke-width="0.1">0.5</text>
<line x1="221.8" y1="82.1" x2="225.3" y2="82.1" stroke="#000" stroke-width="1.2"/>
<text x="220.3" y="86.17" font-size="11.3" font-weight="bold" text-anchor="end" fill="#000" stroke="#000" stroke-width="0.1">1.0</text>
<line x1="221.8" y1="46.6" x2="225.3" y2="46.6" stroke="#000" stroke-width="1.2"/>
<text x="220.3" y="50.67" font-size="11.3" font-weight="bold" text-anchor="end" fill="#000" stroke="#000" stroke-width="0.1">1.5</text>
<line x1="225.3" y1="153.1" x2="509" y2="153.1" stroke="#000" stroke-width="1.2"/>
<text x="186.76" y="85.5" font-size="11" font-weight="bold" text-anchor="middle" fill="#000" transform="rotate(-90 186.76 85.5)">Fold Change</text>
<text x="199.76" y="85.5" font-size="11" font-weight="bold" text-anchor="middle" fill="#000" transform="rotate(-90 199.76 85.5)">Relative to alpha-Tubulin</text>
<rect x="232.15" y="62.77" width="10.4" height="90.33" fill="#444444" stroke="#111111" stroke-width="1.1"/>
<line x1="237.35" y1="62.22" x2="237.35" y2="53.73" stroke="#111111" stroke-width="1"/>
<line x1="234.05" y1="53.73" x2="240.65" y2="53.73" stroke="#111111" stroke-width="1"/>
<circle cx="237.35" cy="55" r="1.7" fill="none" stroke="#111111" stroke-width="1"/>
<circle cx="236.43" cy="59.67" r="1.7" fill="none" stroke="#111111" stroke-width="1"/>
<circle cx="238.27" cy="66.04" r="1.7" fill="none" stroke="#e8e8e8" stroke-width="1"/>
<rect x="250.15" y="68.45" width="10.4" height="84.65" fill="#2478a7" stroke="#0e4664" stroke-width="1.1"/>
<line x1="255.35" y1="67.9" x2="255.35" y2="59.81" stroke="#0e4664" stroke-width="1"/>
<line x1="252.05" y1="59.81" x2="258.65" y2="59.81" stroke="#0e4664" stroke-width="1"/>
<circle cx="255.35" cy="61.02" r="1.7" fill="none" stroke="#0e4664" stroke-width="1"/>
<circle cx="254.43" cy="65.47" r="1.7" fill="none" stroke="#0e4664" stroke-width="1"/>
<circle cx="256.27" cy="71.54" r="1.7" fill="none" stroke="#0e4664" stroke-width="1"/>
<rect x="280.75" y="118.15" width="10.4" height="34.95" fill="#444444" stroke="#111111" stroke-width="1.1"/>
<line x1="285.95" y1="117.6" x2="285.95" y2="112.98" stroke="#111111" stroke-width="1"/>
<line x1="282.65" y1="112.98" x2="289.25" y2="112.98" stroke="#111111" stroke-width="1"/>
<circle cx="285.95" cy="113.68" r="1.7" fill="none" stroke="#111111" stroke-width="1"/>
<circle cx="285.03" cy="116.22" r="1.7" fill="none" stroke="#111111" stroke-width="1"/>
<circle cx="286.87" cy="119.68" r="1.7" fill="none" stroke="#e8e8e8" stroke-width="1"/>
<rect x="298.75" y="116.02" width="10.4" height="37.08" fill="#2478a7" stroke="#0e4664" stroke-width="1.1"/>
<line x1="303.95" y1="115.47" x2="303.95" y2="110.71" stroke="#0e4664" stroke-width="1"/>
<line x1="300.65" y1="110.71" x2="307.25" y2="110.71" stroke="#0e4664" stroke-width="1"/>
<circle cx="303.95" cy="111.42" r="1.7" fill="none" stroke="#0e4664" stroke-width="1"/>
<circle cx="303.03" cy="114.04" r="1.7" fill="none" stroke="#0e4664" stroke-width="1"/>
<circle cx="304.87" cy="117.61" r="1.7" fill="none" stroke="#0e4664" stroke-width="1"/>
<rect x="329.35" y="101.46" width="10.4" height="51.64" fill="#444444" stroke="#111111" stroke-width="1.1"/>
<line x1="334.55" y1="100.91" x2="334.55" y2="95.13" stroke="#111111" stroke-width="1"/>
<line x1="331.25" y1="95.13" x2="337.85" y2="95.13" stroke="#111111" stroke-width="1"/>
<circle cx="334.55" cy="96" r="1.7" fill="none" stroke="#111111" stroke-width="1"/>
<circle cx="333.63" cy="99.18" r="1.7" fill="none" stroke="#111111" stroke-width="1"/>
<circle cx="335.47" cy="103.52" r="1.7" fill="none" stroke="#e8e8e8" stroke-width="1"/>
<rect x="347.35" y="100.75" width="10.4" height="52.35" fill="#2478a7" stroke="#0e4664" stroke-width="1.1"/>
<line x1="352.55" y1="100.2" x2="352.55" y2="94.37" stroke="#0e4664" stroke-width="1"/>
<line x1="349.25" y1="94.37" x2="355.85" y2="94.37" stroke="#0e4664" stroke-width="1"/>
<circle cx="352.55" cy="95.25" r="1.7" fill="none" stroke="#0e4664" stroke-width="1"/>
<circle cx="351.63" cy="98.46" r="1.7" fill="none" stroke="#0e4664" stroke-width="1"/>
<circle cx="353.47" cy="102.83" r="1.7" fill="none" stroke="#0e4664" stroke-width="1"/>
<rect x="377.95" y="70.58" width="10.4" height="82.52" fill="#444444" stroke="#111111" stroke-width="1.1"/>
<line x1="383.15" y1="70.03" x2="383.15" y2="62.09" stroke="#111111" stroke-width="1"/>
<line x1="379.85" y1="62.09" x2="386.45" y2="62.09" stroke="#111111" stroke-width="1"/>
<circle cx="383.15" cy="63.28" r="1.7" fill="none" stroke="#111111" stroke-width="1"/>
<circle cx="382.23" cy="67.65" r="1.7" fill="none" stroke="#111111" stroke-width="1"/>
<circle cx="384.07" cy="73.61" r="1.7" fill="none" stroke="#e8e8e8" stroke-width="1"/>
<rect x="395.95" y="69.87" width="10.4" height="83.23" fill="#2478a7" stroke="#0e4664" stroke-width="1.1"/>
<line x1="401.15" y1="69.32" x2="401.15" y2="61.33" stroke="#0e4664" stroke-width="1"/>
<line x1="397.85" y1="61.33" x2="404.45" y2="61.33" stroke="#0e4664" stroke-width="1"/>
<circle cx="401.15" cy="62.52" r="1.7" fill="none" stroke="#0e4664" stroke-width="1"/>
<circle cx="400.23" cy="66.92" r="1.7" fill="none" stroke="#0e4664" stroke-width="1"/>
<circle cx="402.07" cy="72.92" r="1.7" fill="none" stroke="#0e4664" stroke-width="1"/>
<rect x="426.55" y="120.28" width="10.4" height="32.82" fill="#444444" stroke="#111111" stroke-width="1.1"/>
<line x1="431.75" y1="119.73" x2="431.75" y2="115.26" stroke="#111111" stroke-width="1"/>
<line x1="428.45" y1="115.26" x2="435.05" y2="115.26" stroke="#111111" stroke-width="1"/>
<circle cx="431.75" cy="115.93" r="1.7" fill="none" stroke="#111111" stroke-width="1"/>
<circle cx="430.83" cy="118.39" r="1.7" fill="none" stroke="#111111" stroke-width="1"/>
<circle cx="432.67" cy="121.74" r="1.7" fill="none" stroke="#e8e8e8" stroke-width="1"/>
<rect x="444.55" y="122.41" width="10.4" height="30.69" fill="#2478a7" stroke="#0e4664" stroke-width="1.1"/>
<line x1="449.75" y1="121.86" x2="449.75" y2="117.54" stroke="#0e4664" stroke-width="1"/>
<line x1="446.45" y1="117.54" x2="453.05" y2="117.54" stroke="#0e4664" stroke-width="1"/>
<circle cx="449.75" cy="118.19" r="1.7" fill="none" stroke="#0e4664" stroke-width="1"/>
<circle cx="448.83" cy="120.56" r="1.7" fill="none" stroke="#0e4664" stroke-width="1"/>
<circle cx="450.67" cy="123.8" r="1.7" fill="none" stroke="#0e4664" stroke-width="1"/>
<rect x="475.15" y="120.99" width="10.4" height="32.11" fill="#444444" stroke="#111111" stroke-width="1.1"/>
<line x1="480.35" y1="120.44" x2="480.35" y2="116.02" stroke="#111111" stroke-width="1"/>
<line x1="477.05" y1="116.02" x2="483.65" y2="116.02" stroke="#111111" stroke-width="1"/>
<circle cx="480.35" cy="116.69" r="1.7" fill="none" stroke="#111111" stroke-width="1"/>
<circle cx="479.43" cy="119.12" r="1.7" fill="none" stroke="#111111" stroke-width="1"/>
<circle cx="481.27" cy="122.43" r="1.7" fill="none" stroke="#e8e8e8" stroke-width="1"/>
<rect x="493.15" y="115.31" width="10.4" height="37.79" fill="#2478a7" stroke="#0e4664" stroke-width="1.1"/>
<line x1="498.35" y1="114.76" x2="498.35" y2="109.95" stroke="#0e4664" stroke-width="1"/>
<line x1="495.05" y1="109.95" x2="501.65" y2="109.95" stroke="#0e4664" stroke-width="1"/>
<circle cx="498.35" cy="110.67" r="1.7" fill="none" stroke="#0e4664" stroke-width="1"/>
<circle cx="497.43" cy="113.32" r="1.7" fill="none" stroke="#0e4664" stroke-width="1"/>
<circle cx="499.27" cy="116.93" r="1.7" fill="none" stroke="#0e4664" stroke-width="1"/>
<text x="246.35" y="166.4" font-size="12.9" font-weight="bold" text-anchor="middle" fill="#000" stroke="#000" stroke-width="0.15">PAR</text>
<text x="294.95" y="166.4" font-size="12.9" font-weight="bold" text-anchor="middle" fill="#000" stroke="#000" stroke-width="0.15">PARP1</text>
<text x="343.55" y="166.4" font-size="12.9" font-weight="bold" text-anchor="middle" fill="#000" stroke="#000" stroke-width="0.15">MYOD</text>
<text x="392.15" y="166.4" font-size="12.9" font-weight="bold" text-anchor="middle" fill="#000" stroke="#000" stroke-width="0.15">PAR</text>
<text x="440.75" y="166.4" font-size="12.9" font-weight="bold" text-anchor="middle" fill="#000" stroke="#000" stroke-width="0.15">PARP1</text>
<text x="489.35" y="166.4" font-size="12.9" font-weight="bold" text-anchor="middle" fill="#000" stroke="#000" stroke-width="0.15">MYOD</text>
<text x="295" y="19.8" font-size="9.3" font-weight="bold" text-anchor="middle" fill="#000" stroke="#000" stroke-width="0.12">Day 1</text>
<line x1="236.4" y1="23.4" x2="353.9" y2="23.4" stroke="#000" stroke-width="1.4"/>
<text x="439" y="19.2" font-size="9.3" font-weight="bold" text-anchor="middle" fill="#000" stroke="#000" stroke-width="0.12">Day 2</text>
<line x1="381" y1="23.4" x2="497.6" y2="23.4" stroke="#000" stroke-width="1.4"/>
<line x1="237" y1="42.8" x2="255.5" y2="42.8" stroke="#000" stroke-width="1.3"/>
<text x="246.25" y="41.4" font-size="7.2" font-weight="bold" text-anchor="middle" fill="#000">NS</text>
<line x1="282" y1="95.2" x2="300.8" y2="95.2" stroke="#000" stroke-width="1.3"/>
<text x="291.4" y="93.8" font-size="7.2" font-weight="bold" text-anchor="middle" fill="#000">NS</text>
<line x1="333.3" y1="75.2" x2="351.5" y2="75.2" stroke="#000" stroke-width="1.3"/>
<text x="342.4" y="73.8" font-size="7.2" font-weight="bold" text-anchor="middle" fill="#000">NS</text>
<line x1="382" y1="49.9" x2="400" y2="49.9" stroke="#000" stroke-width="1.3"/>
<text x="391" y="48.5" font-size="7.2" font-weight="bold" text-anchor="middle" fill="#000">NS</text>
<line x1="430" y1="97" x2="448.4" y2="97" stroke="#000" stroke-width="1.3"/>
<text x="439.2" y="95.6" font-size="7.2" font-weight="bold" text-anchor="middle" fill="#000">NS</text>
<line x1="479.6" y1="88.8" x2="497" y2="88.8" stroke="#000" stroke-width="1.3"/>
<text x="488.3" y="87.4" font-size="7.2" font-weight="bold" text-anchor="middle" fill="#000">NS</text>
<rect x="460.3" y="29.8" width="8.9" height="6.7" fill="#444444" stroke="#111111" stroke-width="1.2"/>
<text x="475.4" y="36.5" font-size="9.3" font-weight="bold" text-anchor="start" fill="#000" stroke="#000" stroke-width="0.1">Vehicle</text>
<rect x="460.3" y="42.2" width="8.9" height="6.7" fill="#2478a7" stroke="#0e4664" stroke-width="1.2"/>
<text x="475.4" y="48.9" font-size="9.3" font-weight="bold" text-anchor="start" fill="#000" stroke="#000" stroke-width="0.1">NR</text>
<text transform="translate(1 212) scale(0.89 1)" font-size="17.25" fill="#111" stroke="#111" stroke-width="0.35">C.</text>
<text x="85.2" y="208.2" font-size="8" text-anchor="middle" fill="#1e1e1e" stroke="#1e1e1e" stroke-width="0.15">Differentiation (Day)</text>
<text x="46.5" y="221" font-size="7.7" text-anchor="middle" fill="#1e1e1e" stroke="#1e1e1e" stroke-width="0.15">0</text>
<text x="78.5" y="221" font-size="7.7" text-anchor="middle" fill="#1e1e1e" stroke="#1e1e1e" stroke-width="0.15">1</text>
<text x="116" y="221" font-size="7.7" text-anchor="middle" fill="#1e1e1e" stroke="#1e1e1e" stroke-width="0.15">2</text>
<line x1="65" y1="223.3" x2="91.8" y2="223.3" stroke="#888" stroke-width="0.8"/>
<line x1="102.5" y1="223.3" x2="128.5" y2="223.3" stroke="#888" stroke-width="0.8"/>
<text x="36" y="230.8" font-size="8.7" text-anchor="end" fill="#1e1e1e" stroke="#1e1e1e" stroke-width="0.15">FK866</text>
<line x1="44.7" y1="229.5" x2="47.3" y2="229.5" stroke="#333" stroke-width="0.9"/>
<line x1="64.7" y1="229.5" x2="67.3" y2="229.5" stroke="#333" stroke-width="0.9"/>
<line x1="84.5" y1="229.5" x2="88.5" y2="229.5" stroke="#333" stroke-width="0.9"/>
<line x1="86.5" y1="227.5" x2="86.5" y2="231.5" stroke="#333" stroke-width="0.9"/>
<line x1="104.2" y1="229.5" x2="106.8" y2="229.5" stroke="#333" stroke-width="0.9"/>
<line x1="122" y1="229.5" x2="126" y2="229.5" stroke="#333" stroke-width="0.9"/>
<line x1="124" y1="227.5" x2="124" y2="231.5" stroke="#333" stroke-width="0.9"/>
<rect x="35.6" y="234.5" width="99.1" height="59.7" fill="#ebebeb" stroke="none" stroke-width="1"/>
<g clip-path="url(#c5)">
<rect x="39.4" y="234.5" width="14.4" height="59.7" fill="url(#g10)" filter="url(#b1_0)"/>
<rect x="61.15" y="234.5" width="12.9" height="59.7" fill="url(#g11)" filter="url(#b1_0)"/>
<rect x="80" y="234.5" width="12.8" height="59.7" fill="url(#g12)" filter="url(#b1_0)"/>
<rect x="98.85" y="234.5" width="12.3" height="59.7" fill="url(#g13)" filter="url(#b1_0)"/>
<rect x="117.8" y="234.5" width="13" height="59.7" fill="url(#g14)" filter="url(#b1_0)"/>
</g>
<rect x="36" y="234.9" width="98.3" height="58.9" fill="none" stroke="#8a8a8a" stroke-width="0.8"/>
<text x="0" y="0" font-size="7.2" text-anchor="end" fill="#444" transform="translate(32.3 261) scale(0.95 1)" stroke="#444" stroke-width="0.1">140</text>
<text x="0" y="0" font-size="7.2" text-anchor="end" fill="#444" transform="translate(32.3 278) scale(0.95 1)" stroke="#444" stroke-width="0.1">100</text>
<text x="0" y="0" font-size="7.2" text-anchor="end" fill="#444" transform="translate(32.3 294.5) scale(0.95 1)" stroke="#444" stroke-width="0.1">75</text>
<text x="0" y="0" font-size="8.2" text-anchor="start" fill="#1e1e1e" transform="translate(137.5 272) scale(0.9 1)" stroke="#1e1e1e" stroke-width="0.18">PAR</text>
<rect x="35.6" y="298.2" width="99.1" height="20.1" fill="#ececec" stroke="none" stroke-width="1"/>
<g clip-path="url(#c6)">
<rect x="60.75" y="298" width="13.5" height="11" fill="url(#g15)" filter="url(#b1_0)"/>
<rect x="98.75" y="298" width="13.5" height="11" fill="url(#g16)" filter="url(#b1_0)"/>
<rect x="39.25" y="304.3" width="16.5" height="8" rx="3" fill="#000" opacity="0.1" filter="url(#b2_0)"/>
<rect x="40.25" y="306.8" width="14.5" height="3" rx="1.35" fill="#000" opacity="0.85" filter="url(#b0_6)"/>
<rect x="59.25" y="304.3" width="16.5" height="8" rx="3" fill="#000" opacity="0.11" filter="url(#b2_0)"/>
<rect x="60.25" y="306.8" width="14.5" height="3" rx="1.35" fill="#000" opacity="0.88" filter="url(#b0_6)"/>
<rect x="78.15" y="304.3" width="16.5" height="8" rx="3" fill="#000" opacity="0.11" filter="url(#b2_0)"/>
<rect x="79.15" y="306.8" width="14.5" height="3" rx="1.35" fill="#000" opacity="0.9" filter="url(#b0_6)"/>
<rect x="97.25" y="304.3" width="16.5" height="8" rx="3" fill="#000" opacity="0.1" filter="url(#b2_0)"/>
<rect x="98.25" y="306.8" width="14.5" height="3" rx="1.35" fill="#000" opacity="0.85" filter="url(#b0_6)"/>
<rect x="116.15" y="304.3" width="16.5" height="8" rx="3" fill="#000" opacity="0.11" filter="url(#b2_0)"/>
<rect x="117.15" y="306.8" width="14.5" height="3" rx="1.35" fill="#000" opacity="0.88" filter="url(#b0_6)"/>
</g>
<rect x="36" y="298.6" width="98.3" height="19.3" fill="none" stroke="#8a8a8a" stroke-width="0.8"/>
<text x="0" y="0" font-size="7.2" text-anchor="end" fill="#444" transform="translate(32.3 316.5) scale(0.95 1)" stroke="#444" stroke-width="0.1">100</text>
<text x="0" y="0" font-size="8.2" text-anchor="start" fill="#1e1e1e" transform="translate(137.5 311.5) scale(0.9 1)" stroke="#1e1e1e" stroke-width="0.18">PARP1</text>
<rect x="35.6" y="321.5" width="99.1" height="22.5" fill="#d2d2d2" stroke="none" stroke-width="1"/>
<g clip-path="url(#c7)">
<rect x="61.5" y="322.3" width="12" height="8" rx="3" fill="#000" opacity="0.06" filter="url(#b2_0)"/>
<rect x="62.5" y="324.8" width="10" height="3" rx="1.35" fill="#1c1c1c" opacity="0.5" filter="url(#b1_0)"/>
<rect x="100" y="327" width="11" height="3" rx="1.35" fill="#1c1c1c" opacity="0.15" filter="url(#b1_3)"/>
<rect x="118.9" y="327" width="11" height="3" rx="1.35" fill="#1c1c1c" opacity="0.12" filter="url(#b1_3)"/>
</g>
<rect x="36" y="321.9" width="98.3" height="21.7" fill="none" stroke="#8a8a8a" stroke-width="0.8"/>
<text x="0" y="0" font-size="7.2" text-anchor="end" fill="#444" transform="translate(32.3 328.5) scale(0.95 1)" stroke="#444" stroke-width="0.1">35</text>
<text x="0" y="0" font-size="8.2" text-anchor="start" fill="#1e1e1e" transform="translate(137.5 336) scale(0.9 1)" stroke="#1e1e1e" stroke-width="0.18">Myogenin</text>
<rect x="35.6" y="347.2" width="99.1" height="18.5" fill="#efefef" stroke="none" stroke-width="1"/>
<g clip-path="url(#c8)">
<rect x="39" y="350.55" width="17" height="8.5" rx="3" fill="#000" opacity="0.11" filter="url(#b2_0)"/>
<rect x="40" y="353.05" width="15" height="3.5" rx="1.57" fill="#1c1c1c" opacity="0.92" filter="url(#b0_6)"/>
<rect x="59.25" y="351.55" width="16.5" height="8.3" rx="3" fill="#000" opacity="0.11" filter="url(#b2_0)"/>
<rect x="60.25" y="354.05" width="14.5" height="3.3" rx="1.48" fill="#000" opacity="0.88" filter="url(#b0_6)"/>
<rect x="78.15" y="351.55" width="16.5" height="8.3" rx="3" fill="#000" opacity="0.1" filter="url(#b2_0)"/>
<rect x="79.15" y="354.05" width="14.5" height="3.3" rx="1.48" fill="#000" opacity="0.8" filter="url(#b0_6)"/>
<rect x="97.25" y="351.55" width="16.5" height="8.3" rx="3" fill="#000" opacity="0.1" filter="url(#b2_0)"/>
<rect x="98.25" y="354.05" width="14.5" height="3.3" rx="1.48" fill="#000" opacity="0.8" filter="url(#b0_6)"/>
<rect x="116.15" y="351.55" width="16.5" height="8.3" rx="3" fill="#000" opacity="0.09" filter="url(#b2_0)"/>
<rect x="117.15" y="354.05" width="14.5" height="3.3" rx="1.48" fill="#000" opacity="0.78" filter="url(#b0_6)"/>
</g>
<rect x="36" y="347.6" width="98.3" height="17.7" fill="none" stroke="#8a8a8a" stroke-width="0.8"/>
<text x="0" y="0" font-size="7.2" text-anchor="end" fill="#444" transform="translate(32.3 360) scale(0.95 1)" stroke="#444" stroke-width="0.1">50</text>
<text x="0" y="0" font-size="8.2" text-anchor="start" fill="#1e1e1e" transform="translate(137.5 359) scale(0.9 1)" stroke="#1e1e1e" stroke-width="0.18">α-Tubulin</text>
<text transform="translate(155.2 215.7) scale(0.89 1)" font-size="16.67" fill="#111" stroke="#111" stroke-width="0.35">D.</text>
<line x1="225.3" y1="225" x2="225.3" y2="349.1" stroke="#000" stroke-width="1.2"/>
<line x1="221.8" y1="348.5" x2="225.3" y2="348.5" stroke="#000" stroke-width="1.2"/>
<text x="220.3" y="352.57" font-size="11.3" font-weight="bold" text-anchor="end" fill="#000" stroke="#000" stroke-width="0.1">0.0</text>
<line x1="221.8" y1="320.38" x2="225.3" y2="320.38" stroke="#000" stroke-width="1.2"/>
<text x="220.3" y="324.44" font-size="11.3" font-weight="bold" text-anchor="end" fill="#000" stroke="#000" stroke-width="0.1">0.5</text>
<line x1="221.8" y1="292.25" x2="225.3" y2="292.25" stroke="#000" stroke-width="1.2"/>
<text x="220.3" y="296.32" font-size="11.3" font-weight="bold" text-anchor="end" fill="#000" stroke="#000" stroke-width="0.1">1.0</text>
<line x1="221.8" y1="264.12" x2="225.3" y2="264.12" stroke="#000" stroke-width="1.2"/>
<text x="220.3" y="268.19" font-size="11.3" font-weight="bold" text-anchor="end" fill="#000" stroke="#000" stroke-width="0.1">1.5</text>
<line x1="221.8" y1="236" x2="225.3" y2="236" stroke="#000" stroke-width="1.2"/>
<text x="220.3" y="240.07" font-size="11.3" font-weight="bold" text-anchor="end" fill="#000" stroke="#000" stroke-width="0.1">2.0</text>
<line x1="225.3" y1="348.5" x2="509" y2="348.5" stroke="#000" stroke-width="1.2"/>
<text x="186.69" y="281" font-size="10.8" font-weight="bold" text-anchor="middle" fill="#000" transform="rotate(-90 186.69 281)">Fold Change</text>
<text x="199.69" y="281" font-size="10.8" font-weight="bold" text-anchor="middle" fill="#000" transform="rotate(-90 199.69 281)">Relative to alpha-Tubulin</text>
<rect x="232.15" y="244.43" width="10.4" height="104.08" fill="#444444" stroke="#111111" stroke-width="1.1"/>
<line x1="237.35" y1="243.88" x2="237.35" y2="234.86" stroke="#111111" stroke-width="1"/>
<line x1="234.05" y1="234.86" x2="240.65" y2="234.86" stroke="#111111" stroke-width="1"/>
<circle cx="237.35" cy="236.22" r="1.7" fill="none" stroke="#111111" stroke-width="1"/>
<circle cx="236.43" cy="241.17" r="1.7" fill="none" stroke="#111111" stroke-width="1"/>
<circle cx="238.27" cy="247.93" r="1.7" fill="none" stroke="#e8e8e8" stroke-width="1"/>
<rect x="250.15" y="333.3" width="10.4" height="15.2" fill="#2478a7" stroke="#0e4664" stroke-width="1.1"/>
<line x1="255.35" y1="332.75" x2="255.35" y2="329.96" stroke="#0e4664" stroke-width="1"/>
<line x1="252.05" y1="329.96" x2="258.65" y2="329.96" stroke="#0e4664" stroke-width="1"/>
<circle cx="255.35" cy="330.38" r="1.7" fill="none" stroke="#0e4664" stroke-width="1"/>
<circle cx="254.43" cy="331.91" r="1.7" fill="none" stroke="#0e4664" stroke-width="1"/>
<circle cx="256.27" cy="334.01" r="1.7" fill="none" stroke="#0e4664" stroke-width="1"/>
<rect x="280.75" y="313.61" width="10.4" height="34.89" fill="#444444" stroke="#111111" stroke-width="1.1"/>
<line x1="285.95" y1="313.06" x2="285.95" y2="308.89" stroke="#111111" stroke-width="1"/>
<line x1="282.65" y1="308.89" x2="289.25" y2="308.89" stroke="#111111" stroke-width="1"/>
<circle cx="285.95" cy="309.52" r="1.7" fill="none" stroke="#111111" stroke-width="1"/>
<circle cx="285.03" cy="311.81" r="1.7" fill="none" stroke="#111111" stroke-width="1"/>
<circle cx="286.87" cy="314.94" r="1.7" fill="none" stroke="#e8e8e8" stroke-width="1"/>
<rect x="298.75" y="311.36" width="10.4" height="37.14" fill="#2478a7" stroke="#0e4664" stroke-width="1.1"/>
<line x1="303.95" y1="310.81" x2="303.95" y2="306.49" stroke="#0e4664" stroke-width="1"/>
<line x1="300.65" y1="306.49" x2="307.25" y2="306.49" stroke="#0e4664" stroke-width="1"/>
<circle cx="303.95" cy="307.14" r="1.7" fill="none" stroke="#0e4664" stroke-width="1"/>
<circle cx="303.03" cy="309.51" r="1.7" fill="none" stroke="#0e4664" stroke-width="1"/>
<circle cx="304.87" cy="312.76" r="1.7" fill="none" stroke="#0e4664" stroke-width="1"/>
<rect x="329.35" y="344.55" width="10.4" height="3.95" fill="#444444" stroke="#111111" stroke-width="1.1"/>
<line x1="334.55" y1="344" x2="334.55" y2="342" stroke="#111111" stroke-width="1"/>
<line x1="331.25" y1="342" x2="337.85" y2="342" stroke="#111111" stroke-width="1"/>
<circle cx="334.55" cy="342.3" r="1.7" fill="none" stroke="#111111" stroke-width="1"/>
<circle cx="333.63" cy="343.4" r="1.7" fill="none" stroke="#111111" stroke-width="1"/>
<circle cx="335.47" cy="344.9" r="1.7" fill="none" stroke="#e8e8e8" stroke-width="1"/>
<rect x="347.35" y="347.36" width="10.4" height="1.14" fill="#2478a7" stroke="#0e4664" stroke-width="1.1"/>
<line x1="352.55" y1="346.81" x2="352.55" y2="345.01" stroke="#0e4664" stroke-width="1"/>
<line x1="349.25" y1="345.01" x2="355.85" y2="345.01" stroke="#0e4664" stroke-width="1"/>
<circle cx="352.55" cy="345.28" r="1.7" fill="none" stroke="#0e4664" stroke-width="1"/>
<circle cx="351.63" cy="346.27" r="1.7" fill="none" stroke="#0e4664" stroke-width="1"/>
<circle cx="353.47" cy="347.63" r="1.7" fill="none" stroke="#0e4664" stroke-width="1"/>
<rect x="377.95" y="250.61" width="10.4" height="97.89" fill="#444444" stroke="#111111" stroke-width="1.1"/>
<line x1="383.15" y1="250.06" x2="383.15" y2="241.48" stroke="#111111" stroke-width="1"/>
<line x1="379.85" y1="241.48" x2="386.45" y2="241.48" stroke="#111111" stroke-width="1"/>
<circle cx="383.15" cy="242.77" r="1.7" fill="none" stroke="#111111" stroke-width="1"/>
<circle cx="382.23" cy="247.49" r="1.7" fill="none" stroke="#111111" stroke-width="1"/>
<circle cx="384.07" cy="253.92" r="1.7" fill="none" stroke="#e8e8e8" stroke-width="1"/>
<rect x="395.95" y="330.49" width="10.4" height="18.01" fill="#2478a7" stroke="#0e4664" stroke-width="1.1"/>
<line x1="401.15" y1="329.94" x2="401.15" y2="326.95" stroke="#0e4664" stroke-width="1"/>
<line x1="397.85" y1="326.95" x2="404.45" y2="326.95" stroke="#0e4664" stroke-width="1"/>
<circle cx="401.15" cy="327.4" r="1.7" fill="none" stroke="#0e4664" stroke-width="1"/>
<circle cx="400.23" cy="329.04" r="1.7" fill="none" stroke="#0e4664" stroke-width="1"/>
<circle cx="402.07" cy="331.28" r="1.7" fill="none" stroke="#0e4664" stroke-width="1"/>
<rect x="426.55" y="323.18" width="10.4" height="25.32" fill="#444444" stroke="#111111" stroke-width="1.1"/>
<line x1="431.75" y1="322.62" x2="431.75" y2="319.13" stroke="#111111" stroke-width="1"/>
<line x1="428.45" y1="319.13" x2="435.05" y2="319.13" stroke="#111111" stroke-width="1"/>
<circle cx="431.75" cy="319.65" r="1.7" fill="none" stroke="#111111" stroke-width="1"/>
<circle cx="430.83" cy="321.58" r="1.7" fill="none" stroke="#111111" stroke-width="1"/>
<circle cx="432.67" cy="324.2" r="1.7" fill="none" stroke="#e8e8e8" stroke-width="1"/>
<rect x="444.55" y="315.3" width="10.4" height="33.2" fill="#2478a7" stroke="#0e4664" stroke-width="1.1"/>
<line x1="449.75" y1="314.75" x2="449.75" y2="310.7" stroke="#0e4664" stroke-width="1"/>
<line x1="446.45" y1="310.7" x2="453.05" y2="310.7" stroke="#0e4664" stroke-width="1"/>
<circle cx="449.75" cy="311.31" r="1.7" fill="none" stroke="#0e4664" stroke-width="1"/>
<circle cx="448.83" cy="313.54" r="1.7" fill="none" stroke="#0e4664" stroke-width="1"/>
<circle cx="450.67" cy="316.57" r="1.7" fill="none" stroke="#0e4664" stroke-width="1"/>
<rect x="475.15" y="344.55" width="10.4" height="3.95" fill="#444444" stroke="#111111" stroke-width="1.1"/>
<line x1="480.35" y1="344" x2="480.35" y2="342" stroke="#111111" stroke-width="1"/>
<line x1="477.05" y1="342" x2="483.65" y2="342" stroke="#111111" stroke-width="1"/>
<circle cx="480.35" cy="342.3" r="1.7" fill="none" stroke="#111111" stroke-width="1"/>
<circle cx="479.43" cy="343.4" r="1.7" fill="none" stroke="#111111" stroke-width="1"/>
<circle cx="481.27" cy="344.9" r="1.7" fill="none" stroke="#e8e8e8" stroke-width="1"/>
<rect x="493.15" y="347.36" width="10.4" height="1.14" fill="#2478a7" stroke="#0e4664" stroke-width="1.1"/>
<line x1="498.35" y1="346.81" x2="498.35" y2="345.01" stroke="#0e4664" stroke-width="1"/>
<line x1="495.05" y1="345.01" x2="501.65" y2="345.01" stroke="#0e4664" stroke-width="1"/>
<circle cx="498.35" cy="345.28" r="1.7" fill="none" stroke="#0e4664" stroke-width="1"/>
<circle cx="497.43" cy="346.27" r="1.7" fill="none" stroke="#0e4664" stroke-width="1"/>
<circle cx="499.27" cy="347.63" r="1.7" fill="none" stroke="#0e4664" stroke-width="1"/>
<text x="246.35" y="361.5" font-size="12.9" font-weight="bold" text-anchor="middle" fill="#000" stroke="#000" stroke-width="0.15">PAR</text>
<text x="294.95" y="361.5" font-size="12.9" font-weight="bold" text-anchor="middle" fill="#000" stroke="#000" stroke-width="0.15">PARP1</text>
<text x="343.55" y="361.5" font-size="12.9" font-weight="bold" text-anchor="middle" fill="#000" stroke="#000" stroke-width="0.15">MYOG</text>
<text x="392.15" y="361.5" font-size="12.9" font-weight="bold" text-anchor="middle" fill="#000" stroke="#000" stroke-width="0.15">PAR</text>
<text x="440.75" y="361.5" font-size="12.9" font-weight="bold" text-anchor="middle" fill="#000" stroke="#000" stroke-width="0.15">PARP1</text>
<text x="489.35" y="361.5" font-size="12.9" font-weight="bold" text-anchor="middle" fill="#000" stroke="#000" stroke-width="0.15">MYOG</text>
<text x="301" y="217.9" font-size="9.3" font-weight="bold" text-anchor="middle" fill="#000" stroke="#000" stroke-width="0.12">Day 1</text>
<line x1="242.8" y1="222.2" x2="359" y2="222.2" stroke="#000" stroke-width="1.4"/>
<text x="445" y="217.9" font-size="9.3" font-weight="bold" text-anchor="middle" fill="#000" stroke="#000" stroke-width="0.12">Day 2</text>
<line x1="387.3" y1="222.7" x2="504.2" y2="222.7" stroke="#000" stroke-width="1.4"/>
<line x1="237.4" y1="230.4" x2="255.7" y2="230.4" stroke="#000" stroke-width="1.3"/>
<text x="246.55" y="231.75" font-size="7.5" font-weight="bold" text-anchor="middle" fill="#000">***</text>
<line x1="288" y1="289.9" x2="306" y2="289.9" stroke="#000" stroke-width="1.3"/>
<text x="297" y="288.5" font-size="7.2" font-weight="bold" text-anchor="middle" fill="#000">NS</text>
<line x1="334" y1="324.6" x2="352.4" y2="324.6" stroke="#000" stroke-width="1.3"/>
<text x="343.2" y="323.2" font-size="7.2" font-weight="bold" text-anchor="middle" fill="#000">NS</text>
<line x1="382" y1="235" x2="400" y2="235" stroke="#000" stroke-width="1.3"/>
<text x="391" y="236.35" font-size="7.5" font-weight="bold" text-anchor="middle" fill="#000">***</text>
<line x1="432.6" y1="293.3" x2="451" y2="293.3" stroke="#000" stroke-width="1.3"/>
<text x="441.8" y="291.9" font-size="7.2" font-weight="bold" text-anchor="middle" fill="#000">NS</text>
<line x1="478.6" y1="324.6" x2="497.6" y2="324.6" stroke="#000" stroke-width="1.3"/>
<text x="488.1" y="323.2" font-size="7.2" font-weight="bold" text-anchor="middle" fill="#000">NS</text>
<rect x="461.6" y="230.6" width="8.8" height="6.8" fill="#444444" stroke="#111111" stroke-width="1.2"/>
<text x="476" y="237.35" font-size="9.3" font-weight="bold" text-anchor="start" fill="#000" stroke="#000" stroke-width="0.1">Vehicle</text>
<rect x="461.6" y="242.8" width="8.8" height="6.8" fill="#2478a7" stroke="#0e4664" stroke-width="1.2"/>
<text x="476" y="249.55" font-size="9.3" font-weight="bold" text-anchor="start" fill="#000" stroke="#000" stroke-width="0.1">FK866</text>
<text transform="translate(1.2 387.2) scale(0.89 1)" font-size="17.25" fill="#111" stroke="#111" stroke-width="0.35">E.</text>
<text x="90" y="383.1" font-size="7.95" text-anchor="middle" fill="#1e1e1e" stroke="#1e1e1e" stroke-width="0.15">Differentiation (Day)</text>
<text x="43.4" y="392" font-size="7.7" text-anchor="middle" fill="#1e1e1e" stroke="#1e1e1e" stroke-width="0.15">0</text>
<text x="76.4" y="392" font-size="7.7" text-anchor="middle" fill="#1e1e1e" stroke="#1e1e1e" stroke-width="0.15">1</text>
<text x="114.6" y="392" font-size="7.7" text-anchor="middle" fill="#1e1e1e" stroke="#1e1e1e" stroke-width="0.15">2</text>
<line x1="62.5" y1="395" x2="88.8" y2="395" stroke="#888" stroke-width="0.8"/>
<line x1="101" y1="395" x2="127.8" y2="395" stroke="#888" stroke-width="0.8"/>
<line x1="42.8" y1="401.5" x2="45.4" y2="401.5" stroke="#333" stroke-width="0.9"/>
<line x1="62.9" y1="401.5" x2="65.5" y2="401.5" stroke="#333" stroke-width="0.9"/>
<line x1="82.1" y1="401.5" x2="86.1" y2="401.5" stroke="#333" stroke-width="0.9"/>
<line x1="84.1" y1="399.5" x2="84.1" y2="403.5" stroke="#333" stroke-width="0.9"/>
<line x1="102.6" y1="401.5" x2="105.2" y2="401.5" stroke="#333" stroke-width="0.9"/>
<line x1="119.5" y1="401.5" x2="123.5" y2="401.5" stroke="#333" stroke-width="0.9"/>
<line x1="121.5" y1="399.5" x2="121.5" y2="403.5" stroke="#333" stroke-width="0.9"/>
<rect x="36.1" y="406.7" width="98.6" height="59.9" fill="#d0d0d0" stroke="none" stroke-width="1"/>
<g clip-path="url(#c9)">
<defs><radialGradient id="eg" cx="0" cy="1" r="1"><stop offset="0" stop-color="#000" stop-opacity="0.6"/><stop offset="0.5" stop-color="#000" stop-opacity="0.25"/><stop offset="1" stop-color="#000" stop-opacity="0"/></radialGradient></defs><rect x="34" y="415" width="24" height="54" fill="url(#eg)" filter="url(#b1_6)"/>
<rect x="36.7" y="406.7" width="15" height="59.9" fill="url(#g17)" filter="url(#b1_3)"/>
<rect x="54.7" y="406.7" width="13.6" height="59.9" fill="url(#g18)" filter="url(#b1_0)"/>
<rect x="75.75" y="406.7" width="14.5" height="59.9" fill="url(#g19)" filter="url(#b1_0)"/>
<rect x="95.75" y="406.7" width="13.5" height="59.9" fill="url(#g20)" filter="url(#b1_0)"/>
<rect x="116.25" y="406.7" width="14.5" height="59.9" fill="url(#g21)" filter="url(#b1_0)"/>
</g>
<rect x="36.5" y="407.1" width="97.8" height="59.1" fill="none" stroke="#8a8a8a" stroke-width="0.8"/>
<text x="0" y="0" font-size="7.2" text-anchor="end" fill="#444" transform="translate(32.3 432.5) scale(0.95 1)" stroke="#444" stroke-width="0.1">140</text>
<text x="0" y="0" font-size="7.2" text-anchor="end" fill="#444" transform="translate(32.3 448) scale(0.95 1)" stroke="#444" stroke-width="0.1">100</text>
<text x="0" y="0" font-size="7.2" text-anchor="end" fill="#444" transform="translate(32.3 466) scale(0.95 1)" stroke="#444" stroke-width="0.1">75</text>
<text x="0" y="0" font-size="8.2" text-anchor="start" fill="#1e1e1e" transform="translate(138 446) scale(0.9 1)" stroke="#1e1e1e" stroke-width="0.18">PAR</text>
<rect x="36.1" y="470.1" width="98.6" height="29.9" fill="#efefef" stroke="none" stroke-width="1"/>
<g clip-path="url(#c10)">
<rect x="60.8" y="470" width="14" height="15" fill="url(#g22)" filter="url(#b1_0)"/>
<rect x="79.3" y="470" width="14" height="15" fill="url(#g23)" filter="url(#b1_0)"/>
<rect x="98.5" y="470" width="14" height="15" fill="url(#g24)" filter="url(#b1_0)"/>
<rect x="40.15" y="480.2" width="16.5" height="8.8" rx="3" fill="#000" opacity="0.1" filter="url(#b2_0)"/>
<rect x="41.15" y="482.7" width="14.5" height="3.8" rx="1.71" fill="#000" opacity="0.8" filter="url(#b0_8)"/>
<rect x="59.55" y="480.2" width="16.5" height="8.8" rx="3" fill="#000" opacity="0.1" filter="url(#b2_0)"/>
<rect x="60.55" y="482.7" width="14.5" height="3.8" rx="1.71" fill="#000" opacity="0.86" filter="url(#b0_8)"/>
<rect x="78.05" y="480.2" width="16.5" height="8.8" rx="3" fill="#000" opacity="0.1" filter="url(#b2_0)"/>
<rect x="79.05" y="482.7" width="14.5" height="3.8" rx="1.71" fill="#000" opacity="0.8" filter="url(#b0_8)"/>
<rect x="97.25" y="480.2" width="16.5" height="8.8" rx="3" fill="#000" opacity="0.08" filter="url(#b2_0)"/>
<rect x="98.25" y="482.7" width="14.5" height="3.8" rx="1.71" fill="#000" opacity="0.65" filter="url(#b0_8)"/>
<rect x="116.05" y="480.2" width="16.5" height="8.8" rx="3" fill="#000" opacity="0.09" filter="url(#b2_0)"/>
<rect x="117.05" y="482.7" width="14.5" height="3.8" rx="1.71" fill="#000" opacity="0.78" filter="url(#b0_8)"/>
</g>
<rect x="36.5" y="470.5" width="97.8" height="29.1" fill="none" stroke="#8a8a8a" stroke-width="0.8"/>
<text x="0" y="0" font-size="7.2" text-anchor="end" fill="#444" transform="translate(32.3 498.5) scale(0.95 1)" stroke="#444" stroke-width="0.1">100</text>
<text x="0" y="0" font-size="8.2" text-anchor="start" fill="#1e1e1e" transform="translate(138 488) scale(0.9 1)" stroke="#1e1e1e" stroke-width="0.18">PARP1</text>
<rect x="36.1" y="503.5" width="98.6" height="23" fill="#ededed" stroke="none" stroke-width="1"/>
<g clip-path="url(#c11)">
<rect x="40.4" y="508.6" width="16" height="7.6" rx="3" fill="#000" opacity="0.05" filter="url(#b2_0)"/>
<rect x="41.4" y="511.1" width="14" height="2.6" rx="1.17" fill="#000" opacity="0.45" filter="url(#b0_6)"/>
<rect x="59.8" y="508.6" width="16" height="7.6" rx="3" fill="#000" opacity="0.05" filter="url(#b2_0)"/>
<rect x="60.8" y="511.1" width="14" height="2.6" rx="1.17" fill="#000" opacity="0.38" filter="url(#b0_6)"/>
<rect x="78.3" y="508.6" width="16" height="7.6" rx="3" fill="#000" opacity="0.05" filter="url(#b2_0)"/>
<rect x="79.3" y="511.1" width="14" height="2.6" rx="1.17" fill="#000" opacity="0.4" filter="url(#b0_6)"/>
<rect x="97.5" y="508.6" width="16" height="7.6" rx="3" fill="#000" opacity="0.11" filter="url(#b2_0)"/>
<rect x="98.5" y="511.1" width="14" height="2.6" rx="1.17" fill="#000" opacity="0.9" filter="url(#b0_6)"/>
<rect x="116.3" y="508.6" width="16" height="7.6" rx="3" fill="#000" opacity="0.08" filter="url(#b2_0)"/>
<rect x="117.3" y="511.1" width="14" height="2.6" rx="1.17" fill="#000" opacity="0.65" filter="url(#b0_6)"/>
</g>
<rect x="36.5" y="503.9" width="97.8" height="22.2" fill="none" stroke="#8a8a8a" stroke-width="0.8"/>
<text x="0" y="0" font-size="7.2" text-anchor="end" fill="#444" transform="translate(32.3 514.5) scale(0.95 1)" stroke="#444" stroke-width="0.1">35</text>
<text x="0" y="0" font-size="8.2" text-anchor="start" fill="#1e1e1e" transform="translate(138 515) scale(0.9 1)" stroke="#1e1e1e" stroke-width="0.18">Myogenin</text>
<rect x="36.1" y="530" width="98.6" height="23.6" fill="#f0f0f0" stroke="none" stroke-width="1"/>
<g clip-path="url(#c12)">
<rect x="39.4" y="535.2" width="18" height="11" rx="3" fill="#000" opacity="0.11" filter="url(#b2_0)"/>
<rect x="40.4" y="537.7" width="16" height="6" rx="2.7" fill="#000" opacity="0.88" filter="url(#b0_8)"/>
<rect x="58.8" y="535.2" width="18" height="11" rx="3" fill="#000" opacity="0.1" filter="url(#b2_0)"/>
<rect x="59.8" y="537.7" width="16" height="6" rx="2.7" fill="#000" opacity="0.86" filter="url(#b0_8)"/>
<rect x="77.3" y="535.2" width="18" height="11" rx="3" fill="#000" opacity="0.1" filter="url(#b2_0)"/>
<rect x="78.3" y="537.7" width="16" height="6" rx="2.7" fill="#000" opacity="0.85" filter="url(#b0_8)"/>
<rect x="96.5" y="535.2" width="18" height="11" rx="3" fill="#000" opacity="0.11" filter="url(#b2_0)"/>
<rect x="97.5" y="537.7" width="16" height="6" rx="2.7" fill="#000" opacity="0.88" filter="url(#b0_8)"/>
<rect x="115.3" y="535.2" width="18" height="11" rx="3" fill="#000" opacity="0.1" filter="url(#b2_0)"/>
<rect x="116.3" y="537.7" width="16" height="6" rx="2.7" fill="#000" opacity="0.86" filter="url(#b0_8)"/>
</g>
<rect x="36.5" y="530.4" width="97.8" height="22.8" fill="none" stroke="#8a8a8a" stroke-width="0.8"/>
<text x="0" y="0" font-size="7.2" text-anchor="end" fill="#444" transform="translate(32.3 543.5) scale(0.95 1)" stroke="#444" stroke-width="0.1">50</text>
<text x="0" y="0" font-size="8.2" text-anchor="start" fill="#1e1e1e" transform="translate(138 544.5) scale(0.9 1)" stroke="#1e1e1e" stroke-width="0.18">α-Tubulin</text>
<text transform="translate(155.9 392.7) scale(0.89 1)" font-size="16.67" fill="#111" stroke="#111" stroke-width="0.35">F.</text>
<line x1="224.4" y1="410.2" x2="224.4" y2="534.5" stroke="#000" stroke-width="1.2"/>
<line x1="220.9" y1="533.9" x2="224.4" y2="533.9" stroke="#000" stroke-width="1.2"/>
<text x="219.4" y="537.97" font-size="11.3" font-weight="bold" text-anchor="end" fill="#000" stroke="#000" stroke-width="0.1">0.0</text>
<line x1="220.9" y1="498.4" x2="224.4" y2="498.4" stroke="#000" stroke-width="1.2"/>
<text x="219.4" y="502.47" font-size="11.3" font-weight="bold" text-anchor="end" fill="#000" stroke="#000" stroke-width="0.1">0.5</text>
<line x1="220.9" y1="462.9" x2="224.4" y2="462.9" stroke="#000" stroke-width="1.2"/>
<text x="219.4" y="466.97" font-size="11.3" font-weight="bold" text-anchor="end" fill="#000" stroke="#000" stroke-width="0.1">1.0</text>
<line x1="220.9" y1="427.4" x2="224.4" y2="427.4" stroke="#000" stroke-width="1.2"/>
<text x="219.4" y="431.47" font-size="11.3" font-weight="bold" text-anchor="end" fill="#000" stroke="#000" stroke-width="0.1">1.5</text>
<line x1="224.4" y1="533.9" x2="508" y2="533.9" stroke="#000" stroke-width="1.2"/>
<text x="185.69" y="466.5" font-size="10.8" font-weight="bold" text-anchor="middle" fill="#000" transform="rotate(-90 185.69 466.5)">Fold Change</text>
<text x="198.69" y="466.5" font-size="10.8" font-weight="bold" text-anchor="middle" fill="#000" transform="rotate(-90 198.69 466.5)">Relative to alpha-Tubulin</text>
<rect x="231.25" y="464.16" width="10.4" height="69.74" fill="#444444" stroke="#111111" stroke-width="1.1"/>
<line x1="236.45" y1="463.61" x2="236.45" y2="456.56" stroke="#111111" stroke-width="1"/>
<line x1="233.15" y1="456.56" x2="239.75" y2="456.56" stroke="#111111" stroke-width="1"/>
<circle cx="236.45" cy="457.62" r="1.7" fill="none" stroke="#111111" stroke-width="1"/>
<circle cx="235.53" cy="461.49" r="1.7" fill="none" stroke="#111111" stroke-width="1"/>
<circle cx="237.37" cy="466.78" r="1.7" fill="none" stroke="#e8e8e8" stroke-width="1"/>
<rect x="249.25" y="484.75" width="10.4" height="49.15" fill="#2478a7" stroke="#0e4664" stroke-width="1.1"/>
<line x1="254.45" y1="484.2" x2="254.45" y2="478.59" stroke="#0e4664" stroke-width="1"/>
<line x1="251.15" y1="478.59" x2="257.75" y2="478.59" stroke="#0e4664" stroke-width="1"/>
<circle cx="254.45" cy="479.43" r="1.7" fill="none" stroke="#0e4664" stroke-width="1"/>
<circle cx="253.53" cy="482.52" r="1.7" fill="none" stroke="#0e4664" stroke-width="1"/>
<circle cx="255.37" cy="486.72" r="1.7" fill="none" stroke="#0e4664" stroke-width="1"/>
<rect x="279.65" y="468.42" width="10.4" height="65.48" fill="#444444" stroke="#111111" stroke-width="1.1"/>
<line x1="284.85" y1="467.87" x2="284.85" y2="461.12" stroke="#111111" stroke-width="1"/>
<line x1="281.55" y1="461.12" x2="288.15" y2="461.12" stroke="#111111" stroke-width="1"/>
<circle cx="284.85" cy="462.13" r="1.7" fill="none" stroke="#111111" stroke-width="1"/>
<circle cx="283.93" cy="465.84" r="1.7" fill="none" stroke="#111111" stroke-width="1"/>
<circle cx="285.77" cy="470.91" r="1.7" fill="none" stroke="#e8e8e8" stroke-width="1"/>
<rect x="297.65" y="475.52" width="10.4" height="58.38" fill="#2478a7" stroke="#0e4664" stroke-width="1.1"/>
<line x1="302.85" y1="474.97" x2="302.85" y2="468.71" stroke="#0e4664" stroke-width="1"/>
<line x1="299.55" y1="468.71" x2="306.15" y2="468.71" stroke="#0e4664" stroke-width="1"/>
<circle cx="302.85" cy="469.65" r="1.7" fill="none" stroke="#0e4664" stroke-width="1"/>
<circle cx="301.93" cy="473.09" r="1.7" fill="none" stroke="#0e4664" stroke-width="1"/>
<circle cx="303.77" cy="477.78" r="1.7" fill="none" stroke="#0e4664" stroke-width="1"/>
<rect x="328.05" y="515.28" width="10.4" height="18.62" fill="#444444" stroke="#111111" stroke-width="1.1"/>
<line x1="333.25" y1="514.73" x2="333.25" y2="511.26" stroke="#111111" stroke-width="1"/>
<line x1="329.95" y1="511.26" x2="336.55" y2="511.26" stroke="#111111" stroke-width="1"/>
<circle cx="333.25" cy="511.78" r="1.7" fill="none" stroke="#111111" stroke-width="1"/>
<circle cx="332.33" cy="513.69" r="1.7" fill="none" stroke="#111111" stroke-width="1"/>
<circle cx="334.17" cy="516.29" r="1.7" fill="none" stroke="#e8e8e8" stroke-width="1"/>
<rect x="346.05" y="513.86" width="10.4" height="20.04" fill="#2478a7" stroke="#0e4664" stroke-width="1.1"/>
<line x1="351.25" y1="513.31" x2="351.25" y2="509.74" stroke="#0e4664" stroke-width="1"/>
<line x1="347.95" y1="509.74" x2="354.55" y2="509.74" stroke="#0e4664" stroke-width="1"/>
<circle cx="351.25" cy="510.27" r="1.7" fill="none" stroke="#0e4664" stroke-width="1"/>
<circle cx="350.33" cy="512.24" r="1.7" fill="none" stroke="#0e4664" stroke-width="1"/>
<circle cx="352.17" cy="514.92" r="1.7" fill="none" stroke="#0e4664" stroke-width="1"/>
<rect x="376.45" y="479.78" width="10.4" height="54.12" fill="#444444" stroke="#111111" stroke-width="1.1"/>
<line x1="381.65" y1="479.23" x2="381.65" y2="473.27" stroke="#111111" stroke-width="1"/>
<line x1="378.35" y1="473.27" x2="384.95" y2="473.27" stroke="#111111" stroke-width="1"/>
<circle cx="381.65" cy="474.17" r="1.7" fill="none" stroke="#111111" stroke-width="1"/>
<circle cx="380.73" cy="477.44" r="1.7" fill="none" stroke="#111111" stroke-width="1"/>
<circle cx="382.57" cy="481.91" r="1.7" fill="none" stroke="#e8e8e8" stroke-width="1"/>
<rect x="394.45" y="501.08" width="10.4" height="32.82" fill="#2478a7" stroke="#0e4664" stroke-width="1.1"/>
<line x1="399.65" y1="500.53" x2="399.65" y2="496.06" stroke="#0e4664" stroke-width="1"/>
<line x1="396.35" y1="496.06" x2="402.95" y2="496.06" stroke="#0e4664" stroke-width="1"/>
<circle cx="399.65" cy="496.73" r="1.7" fill="none" stroke="#0e4664" stroke-width="1"/>
<circle cx="398.73" cy="499.19" r="1.7" fill="none" stroke="#0e4664" stroke-width="1"/>
<circle cx="400.57" cy="502.54" r="1.7" fill="none" stroke="#0e4664" stroke-width="1"/>
<rect x="424.85" y="500.37" width="10.4" height="33.53" fill="#444444" stroke="#111111" stroke-width="1.1"/>
<line x1="430.05" y1="499.82" x2="430.05" y2="495.3" stroke="#111111" stroke-width="1"/>
<line x1="426.75" y1="495.3" x2="433.35" y2="495.3" stroke="#111111" stroke-width="1"/>
<circle cx="430.05" cy="495.98" r="1.7" fill="none" stroke="#111111" stroke-width="1"/>
<circle cx="429.13" cy="498.47" r="1.7" fill="none" stroke="#111111" stroke-width="1"/>
<circle cx="430.97" cy="501.85" r="1.7" fill="none" stroke="#e8e8e8" stroke-width="1"/>
<rect x="442.85" y="503.92" width="10.4" height="29.98" fill="#2478a7" stroke="#0e4664" stroke-width="1.1"/>
<line x1="448.05" y1="503.37" x2="448.05" y2="499.1" stroke="#0e4664" stroke-width="1"/>
<line x1="444.75" y1="499.1" x2="451.35" y2="499.1" stroke="#0e4664" stroke-width="1"/>
<circle cx="448.05" cy="499.74" r="1.7" fill="none" stroke="#0e4664" stroke-width="1"/>
<circle cx="447.13" cy="502.09" r="1.7" fill="none" stroke="#0e4664" stroke-width="1"/>
<circle cx="448.97" cy="505.29" r="1.7" fill="none" stroke="#0e4664" stroke-width="1"/>
<rect x="473.25" y="503.92" width="10.4" height="29.98" fill="#444444" stroke="#111111" stroke-width="1.1"/>
<line x1="478.45" y1="503.37" x2="478.45" y2="499.1" stroke="#111111" stroke-width="1"/>
<line x1="475.15" y1="499.1" x2="481.75" y2="499.1" stroke="#111111" stroke-width="1"/>
<circle cx="478.45" cy="499.74" r="1.7" fill="none" stroke="#111111" stroke-width="1"/>
<circle cx="477.53" cy="502.09" r="1.7" fill="none" stroke="#111111" stroke-width="1"/>
<circle cx="479.37" cy="505.29" r="1.7" fill="none" stroke="#e8e8e8" stroke-width="1"/>
<rect x="491.25" y="509.6" width="10.4" height="24.3" fill="#2478a7" stroke="#0e4664" stroke-width="1.1"/>
<line x1="496.45" y1="509.05" x2="496.45" y2="505.18" stroke="#0e4664" stroke-width="1"/>
<line x1="493.15" y1="505.18" x2="499.75" y2="505.18" stroke="#0e4664" stroke-width="1"/>
<circle cx="496.45" cy="505.76" r="1.7" fill="none" stroke="#0e4664" stroke-width="1"/>
<circle cx="495.53" cy="507.89" r="1.7" fill="none" stroke="#0e4664" stroke-width="1"/>
<circle cx="497.37" cy="510.79" r="1.7" fill="none" stroke="#0e4664" stroke-width="1"/>
<text x="245.45" y="547" font-size="12.9" font-weight="bold" text-anchor="middle" fill="#000" stroke="#000" stroke-width="0.15">PAR</text>
<text x="293.85" y="547" font-size="12.9" font-weight="bold" text-anchor="middle" fill="#000" stroke="#000" stroke-width="0.15">PARP1</text>
<text x="342.25" y="547" font-size="12.9" font-weight="bold" text-anchor="middle" fill="#000" stroke="#000" stroke-width="0.15">MYOG</text>
<text x="390.65" y="547" font-size="12.9" font-weight="bold" text-anchor="middle" fill="#000" stroke="#000" stroke-width="0.15">PAR</text>
<text x="439.05" y="547" font-size="12.9" font-weight="bold" text-anchor="middle" fill="#000" stroke="#000" stroke-width="0.15">PARP1</text>
<text x="487.45" y="547" font-size="12.9" font-weight="bold" text-anchor="middle" fill="#000" stroke="#000" stroke-width="0.15">MYOG</text>
<text x="296" y="397.9" font-size="9.3" font-weight="bold" text-anchor="middle" fill="#000" stroke="#000" stroke-width="0.12">Day 1</text>
<line x1="237.7" y1="402.2" x2="355" y2="402.2" stroke="#000" stroke-width="1.4"/>
<text x="439.5" y="398.2" font-size="9.3" font-weight="bold" text-anchor="middle" fill="#000" stroke="#000" stroke-width="0.12">Day 2</text>
<line x1="381.8" y1="402.6" x2="498.5" y2="402.6" stroke="#000" stroke-width="1.4"/>
<line x1="237.7" y1="417.4" x2="255.7" y2="417.4" stroke="#000" stroke-width="1.3"/>
<text x="246.7" y="416.55" font-size="7.5" font-weight="bold" text-anchor="middle" fill="#000">**</text>
<line x1="287.5" y1="455.9" x2="305.5" y2="455.9" stroke="#000" stroke-width="1.3"/>
<text x="296.5" y="454.5" font-size="7.2" font-weight="bold" text-anchor="middle" fill="#000">NS</text>
<line x1="333" y1="491.8" x2="351.4" y2="491.8" stroke="#000" stroke-width="1.3"/>
<text x="342.2" y="490.4" font-size="7.2" font-weight="bold" text-anchor="middle" fill="#000">NS</text>
<line x1="379.7" y1="460.7" x2="397.6" y2="460.7" stroke="#000" stroke-width="1.3"/>
<text x="388.65" y="459.85" font-size="7.5" font-weight="bold" text-anchor="middle" fill="#000">**</text>
<line x1="430" y1="484" x2="448" y2="484" stroke="#000" stroke-width="1.3"/>
<text x="439" y="482.6" font-size="7.2" font-weight="bold" text-anchor="middle" fill="#000">NS</text>
<line x1="478" y1="490" x2="496" y2="490" stroke="#000" stroke-width="1.3"/>
<text x="487" y="488.6" font-size="7.2" font-weight="bold" text-anchor="middle" fill="#000">NS</text>
<rect x="420.6" y="414" width="8.8" height="7" fill="#444444" stroke="#111111" stroke-width="1.2"/>
<text x="435" y="420.94" font-size="9.55" font-weight="bold" text-anchor="start" fill="#000" stroke="#000" stroke-width="0.1">Vehicle</text>
<rect x="420.6" y="426.2" width="8.8" height="7" fill="#2478a7" stroke="#0e4664" stroke-width="1.2"/>
<text x="435" y="433.14" font-size="9.55" font-weight="bold" text-anchor="start" fill="#000" stroke="#000" stroke-width="0.1">Dexamethasone</text>
<text transform="translate(1 565) scale(0.89 1)" font-size="17.25" fill="#111" stroke="#111" stroke-width="0.35">G.</text>
<text x="81.3" y="570.5" font-size="7.8" text-anchor="middle" fill="#1e1e1e" stroke="#1e1e1e" stroke-width="0.15">Differentiation (Day)</text>
<text x="10" y="583.5" font-size="8.3" text-anchor="start" fill="#1e1e1e" stroke="#1e1e1e" stroke-width="0.15">Glucose</text>
<text x="10" y="592.3" font-size="8.3" text-anchor="start" fill="#1e1e1e" stroke="#1e1e1e" stroke-width="0.15">(mM)</text>
<text x="48.4" y="581.5" font-size="7.7" text-anchor="middle" fill="#1e1e1e" stroke="#1e1e1e" stroke-width="0.15">0</text>
<text x="90" y="581.5" font-size="7.7" text-anchor="middle" fill="#1e1e1e" stroke="#1e1e1e" stroke-width="0.15">1</text>
<line x1="64" y1="583.6" x2="112" y2="583.6" stroke="#888" stroke-width="0.8"/>
<text x="49.6" y="592.3" font-size="7.7" text-anchor="middle" fill="#1e1e1e" stroke="#1e1e1e" stroke-width="0.15">25</text>
<text x="68.4" y="592.3" font-size="7.7" text-anchor="middle" fill="#1e1e1e" stroke="#1e1e1e" stroke-width="0.15">6.25</text>
<text x="88.5" y="592.3" font-size="7.7" text-anchor="middle" fill="#1e1e1e" stroke="#1e1e1e" stroke-width="0.15">12.5</text>
<text x="105.8" y="592.3" font-size="7.7" text-anchor="middle" fill="#1e1e1e" stroke="#1e1e1e" stroke-width="0.15">25</text>
<rect x="41.5" y="593.9" width="75" height="60.5" fill="#ebebeb" stroke="none" stroke-width="1"/>
<g clip-path="url(#c13)">
<rect x="43.6" y="593.9" width="15" height="60.5" fill="url(#g25)" filter="url(#b1_6)"/>
<rect x="62.7" y="593.9" width="13.6" height="60.5" fill="url(#g26)" filter="url(#b1_0)"/>
<rect x="81.4" y="593.9" width="13" height="60.5" fill="url(#g27)" filter="url(#b1_0)"/>
<rect x="100" y="593.9" width="13" height="60.5" fill="url(#g28)" filter="url(#b1_0)"/>
</g>
<rect x="41.9" y="594.3" width="74.2" height="59.7" fill="none" stroke="#8a8a8a" stroke-width="0.8"/>
<text x="0" y="0" font-size="7.2" text-anchor="end" fill="#444" transform="translate(38.3 622.5) scale(0.95 1)" stroke="#444" stroke-width="0.1">140</text>
<text x="0" y="0" font-size="7.2" text-anchor="end" fill="#444" transform="translate(38.3 638.5) scale(0.95 1)" stroke="#444" stroke-width="0.1">100</text>
<text x="0" y="0" font-size="7.2" text-anchor="end" fill="#444" transform="translate(38.3 655) scale(0.95 1)" stroke="#444" stroke-width="0.1">75</text>
<text x="0" y="0" font-size="8.2" text-anchor="start" fill="#1e1e1e" transform="translate(120.2 633) scale(0.9 1)" stroke="#1e1e1e" stroke-width="0.18">PAR</text>
<rect x="41.5" y="657.5" width="75" height="24.8" fill="#efefef" stroke="none" stroke-width="1"/>
<g clip-path="url(#c14)">
<rect x="63" y="657.5" width="14" height="14.5" fill="url(#g29)" filter="url(#b1_0)"/>
<rect x="81.2" y="657.5" width="14" height="14.5" fill="url(#g30)" filter="url(#b1_0)"/>
<rect x="99.4" y="657.5" width="14" height="14.5" fill="url(#g31)" filter="url(#b1_0)"/>
<rect x="43.3" y="668.8" width="16" height="8" rx="3" fill="#000" opacity="0.1" filter="url(#b2_0)"/>
<rect x="44.3" y="671.3" width="14" height="3" rx="1.35" fill="#1c1c1c" opacity="0.8" filter="url(#b0_6)"/>
<rect x="61.75" y="666.5" width="16.5" height="10.2" rx="3" fill="#000" opacity="0.11" filter="url(#b2_0)"/>
<rect x="62.75" y="669" width="14.5" height="5.2" rx="2.34" fill="#000" opacity="0.88" filter="url(#b0_8)"/>
<rect x="79.95" y="666.5" width="16.5" height="10.2" rx="3" fill="#000" opacity="0.1" filter="url(#b2_0)"/>
<rect x="80.95" y="669" width="14.5" height="5.2" rx="2.34" fill="#000" opacity="0.86" filter="url(#b0_8)"/>
<rect x="98.15" y="666.5" width="16.5" height="10.2" rx="3" fill="#000" opacity="0.11" filter="url(#b2_0)"/>
<rect x="99.15" y="669" width="14.5" height="5.2" rx="2.34" fill="#000" opacity="0.88" filter="url(#b0_8)"/>
</g>
<rect x="41.9" y="657.9" width="74.2" height="24" fill="none" stroke="#8a8a8a" stroke-width="0.8"/>
<text x="0" y="0" font-size="7.2" text-anchor="end" fill="#444" transform="translate(38.3 678.5) scale(0.95 1)" stroke="#444" stroke-width="0.1">100</text>
<text x="0" y="0" font-size="8.2" text-anchor="start" fill="#1e1e1e" transform="translate(120.2 674) scale(0.9 1)" stroke="#1e1e1e" stroke-width="0.18">PARP1</text>
<rect x="41.5" y="685" width="75" height="25.3" fill="#cdcdcd" stroke="none" stroke-width="1"/>
<g clip-path="url(#c15)">
<rect x="43.3" y="691.3" width="16" height="8.6" rx="3" fill="#000" opacity="0.1" filter="url(#b2_0)"/>
<rect x="44.3" y="693.8" width="14" height="3.6" rx="1.62" fill="#1c1c1c" opacity="0.8" filter="url(#b0_8)"/>
<rect x="61.75" y="692.1" width="16.5" height="9.4" rx="3" fill="#000" opacity="0.1" filter="url(#b2_0)"/>
<rect x="62.75" y="694.6" width="14.5" height="4.4" rx="1.98" fill="#000" opacity="0.85" filter="url(#b0_8)"/>
<rect x="79.95" y="692.1" width="16.5" height="9.4" rx="3" fill="#000" opacity="0.09" filter="url(#b2_0)"/>
<rect x="80.95" y="694.6" width="14.5" height="4.4" rx="1.98" fill="#000" opacity="0.78" filter="url(#b0_8)"/>
<rect x="98.15" y="692.1" width="16.5" height="9.4" rx="3" fill="#000" opacity="0.09" filter="url(#b2_0)"/>
<rect x="99.15" y="694.6" width="14.5" height="4.4" rx="1.98" fill="#000" opacity="0.78" filter="url(#b0_8)"/>
</g>
<rect x="41.9" y="685.4" width="74.2" height="24.5" fill="none" stroke="#8a8a8a" stroke-width="0.8"/>
<text x="0" y="0" font-size="7.2" text-anchor="end" fill="#444" transform="translate(38.3 697.5) scale(0.95 1)" stroke="#444" stroke-width="0.1">100</text>
<text x="0" y="0" font-size="8.2" text-anchor="start" fill="#1e1e1e" transform="translate(120.2 702) scale(0.9 1)" stroke="#1e1e1e" stroke-width="0.18">Hexokinase II</text>
<rect x="41.5" y="713.4" width="75" height="17" fill="#eeeeee" stroke="none" stroke-width="1"/>
<g clip-path="url(#c16)">
<rect x="42.55" y="714.7" width="18.5" height="11.8" rx="3" fill="#000" opacity="0.11" filter="url(#b2_0)"/>
<rect x="43.55" y="717.2" width="16.5" height="6.8" rx="3.06" fill="#000" opacity="0.88" filter="url(#b0_8)"/>
<rect x="61.05" y="714.7" width="18.5" height="11.8" rx="3" fill="#000" opacity="0.1" filter="url(#b2_0)"/>
<rect x="62.05" y="717.2" width="16.5" height="6.8" rx="3.06" fill="#000" opacity="0.86" filter="url(#b0_8)"/>
<rect x="79.15" y="714.7" width="18.5" height="11.8" rx="3" fill="#000" opacity="0.11" filter="url(#b2_0)"/>
<rect x="80.15" y="717.2" width="16.5" height="6.8" rx="3.06" fill="#000" opacity="0.88" filter="url(#b0_8)"/>
<rect x="97.35" y="714.7" width="18.5" height="11.8" rx="3" fill="#000" opacity="0.11" filter="url(#b2_0)"/>
<rect x="98.35" y="717.2" width="16.5" height="6.8" rx="3.06" fill="#000" opacity="0.88" filter="url(#b0_8)"/>
</g>
<rect x="41.9" y="713.8" width="74.2" height="16.2" fill="none" stroke="#8a8a8a" stroke-width="0.8"/>
<text x="0" y="0" font-size="7.2" text-anchor="end" fill="#444" transform="translate(38.3 722.5) scale(0.95 1)" stroke="#444" stroke-width="0.1">50</text>
<text x="0" y="0" font-size="8.2" text-anchor="start" fill="#1e1e1e" transform="translate(120.2 725.8) scale(0.9 1)" stroke="#1e1e1e" stroke-width="0.18">α-Tubulin</text>
<text transform="translate(155 569.5) scale(0.89 1)" font-size="16.67" fill="#111" stroke="#111" stroke-width="0.35">H.</text>
<line x1="223.8" y1="590.5" x2="223.8" y2="719.2" stroke="#000" stroke-width="1.2"/>
<line x1="220.3" y1="718.6" x2="223.8" y2="718.6" stroke="#000" stroke-width="1.2"/>
<text x="218.8" y="722.67" font-size="11.3" font-weight="bold" text-anchor="end" fill="#000" stroke="#000" stroke-width="0.1">0.0</text>
<line x1="220.3" y1="686.85" x2="223.8" y2="686.85" stroke="#000" stroke-width="1.2"/>
<text x="218.8" y="690.92" font-size="11.3" font-weight="bold" text-anchor="end" fill="#000" stroke="#000" stroke-width="0.1">0.5</text>
<line x1="220.3" y1="655.1" x2="223.8" y2="655.1" stroke="#000" stroke-width="1.2"/>
<text x="218.8" y="659.17" font-size="11.3" font-weight="bold" text-anchor="end" fill="#000" stroke="#000" stroke-width="0.1">1.0</text>
<line x1="220.3" y1="623.35" x2="223.8" y2="623.35" stroke="#000" stroke-width="1.2"/>
<text x="218.8" y="627.42" font-size="11.3" font-weight="bold" text-anchor="end" fill="#000" stroke="#000" stroke-width="0.1">1.5</text>
<line x1="220.3" y1="591.6" x2="223.8" y2="591.6" stroke="#000" stroke-width="1.2"/>
<text x="218.8" y="595.67" font-size="11.3" font-weight="bold" text-anchor="end" fill="#000" stroke="#000" stroke-width="0.1">2.0</text>
<line x1="223.8" y1="718.6" x2="365.5" y2="718.6" stroke="#000" stroke-width="1.2"/>
<text x="183.46" y="649.2" font-size="11" font-weight="bold" text-anchor="middle" fill="#000" transform="rotate(-90 183.46 649.2)">Fold Change</text>
<text x="196.46" y="649.2" font-size="11" font-weight="bold" text-anchor="middle" fill="#000" transform="rotate(-90 196.46 649.2)">Relative to alpha-Tubulin</text>
<rect x="229.25" y="603.58" width="9.1" height="115.02" fill="#444444" stroke="#111111" stroke-width="1.1"/>
<line x1="233.8" y1="603.03" x2="233.8" y2="601.76" stroke="#111111" stroke-width="1"/>
<line x1="230.74" y1="601.76" x2="236.86" y2="601.76" stroke="#111111" stroke-width="1"/>
<circle cx="230.9" cy="602.52" r="1.7" fill="none" stroke="#111111" stroke-width="1"/>
<circle cx="233.8" cy="604.3" r="1.7" fill="none" stroke="#e8e8e8" stroke-width="1"/>
<circle cx="236.7" cy="602.52" r="1.7" fill="none" stroke="#111111" stroke-width="1"/>
<rect x="241.95" y="632.15" width="9.1" height="86.45" fill="#2478a7" stroke="#0e4664" stroke-width="1.1"/>
<line x1="246.5" y1="631.61" x2="246.5" y2="626.52" stroke="#0e4664" stroke-width="1"/>
<line x1="243.44" y1="626.52" x2="249.56" y2="626.52" stroke="#0e4664" stroke-width="1"/>
<circle cx="246.5" cy="627.03" r="1.7" fill="none" stroke="#0e4664" stroke-width="1"/>
<circle cx="243.6" cy="630.34" r="1.7" fill="none" stroke="#0e4664" stroke-width="1"/>
<circle cx="249.4" cy="630.34" r="1.7" fill="none" stroke="#0e4664" stroke-width="1"/>
<rect x="254.65" y="643.59" width="9.1" height="75.01" fill="#fdd85c" stroke="#9a7a2c" stroke-width="1.1"/>
<line x1="259.2" y1="643.04" x2="259.2" y2="640.5" stroke="#9a7a2c" stroke-width="1"/>
<line x1="256.14" y1="640.5" x2="262.26" y2="640.5" stroke="#9a7a2c" stroke-width="1"/>
<circle cx="256.3" cy="642.53" r="1.7" fill="none" stroke="#9a7a2c" stroke-width="1"/>
<circle cx="259.2" cy="644.31" r="1.7" fill="none" stroke="#9a7a2c" stroke-width="1"/>
<circle cx="262.1" cy="642.53" r="1.7" fill="none" stroke="#9a7a2c" stroke-width="1"/>
<rect x="277.75" y="663.27" width="9.1" height="55.33" fill="#444444" stroke="#111111" stroke-width="1.1"/>
<line x1="282.3" y1="662.72" x2="282.3" y2="661.45" stroke="#111111" stroke-width="1"/>
<line x1="279.24" y1="661.45" x2="285.36" y2="661.45" stroke="#111111" stroke-width="1"/>
<circle cx="279.4" cy="662.21" r="1.7" fill="none" stroke="#111111" stroke-width="1"/>
<circle cx="282.3" cy="663.99" r="1.7" fill="none" stroke="#e8e8e8" stroke-width="1"/>
<circle cx="285.2" cy="662.21" r="1.7" fill="none" stroke="#111111" stroke-width="1"/>
<rect x="290.45" y="657.55" width="9.1" height="61.05" fill="#2478a7" stroke="#0e4664" stroke-width="1.1"/>
<line x1="295" y1="657" x2="295" y2="655.74" stroke="#0e4664" stroke-width="1"/>
<line x1="291.94" y1="655.74" x2="298.06" y2="655.74" stroke="#0e4664" stroke-width="1"/>
<circle cx="292.1" cy="656.5" r="1.7" fill="none" stroke="#0e4664" stroke-width="1"/>
<circle cx="295" cy="658.27" r="1.7" fill="none" stroke="#0e4664" stroke-width="1"/>
<circle cx="297.9" cy="656.5" r="1.7" fill="none" stroke="#0e4664" stroke-width="1"/>
<rect x="303.15" y="657.55" width="9.1" height="61.05" fill="#fdd85c" stroke="#9a7a2c" stroke-width="1.1"/>
<line x1="307.7" y1="657" x2="307.7" y2="655.1" stroke="#9a7a2c" stroke-width="1"/>
<line x1="304.64" y1="655.1" x2="310.76" y2="655.1" stroke="#9a7a2c" stroke-width="1"/>
<circle cx="304.8" cy="656.5" r="1.7" fill="none" stroke="#9a7a2c" stroke-width="1"/>
<circle cx="307.7" cy="658.27" r="1.7" fill="none" stroke="#9a7a2c" stroke-width="1"/>
<circle cx="310.6" cy="656.5" r="1.7" fill="none" stroke="#9a7a2c" stroke-width="1"/>
<rect x="326.35" y="674.7" width="9.1" height="43.9" fill="#444444" stroke="#111111" stroke-width="1.1"/>
<line x1="330.9" y1="674.15" x2="330.9" y2="671.61" stroke="#111111" stroke-width="1"/>
<line x1="327.84" y1="671.61" x2="333.96" y2="671.61" stroke="#111111" stroke-width="1"/>
<circle cx="328" cy="673.64" r="1.7" fill="none" stroke="#111111" stroke-width="1"/>
<circle cx="330.9" cy="675.42" r="1.7" fill="none" stroke="#e8e8e8" stroke-width="1"/>
<circle cx="333.8" cy="673.64" r="1.7" fill="none" stroke="#111111" stroke-width="1"/>
<rect x="339.05" y="675.34" width="9.1" height="43.26" fill="#2478a7" stroke="#0e4664" stroke-width="1.1"/>
<line x1="343.6" y1="674.79" x2="343.6" y2="673.52" stroke="#0e4664" stroke-width="1"/>
<line x1="340.54" y1="673.52" x2="346.66" y2="673.52" stroke="#0e4664" stroke-width="1"/>
<circle cx="340.7" cy="674.28" r="1.7" fill="none" stroke="#0e4664" stroke-width="1"/>
<circle cx="343.6" cy="676.06" r="1.7" fill="none" stroke="#0e4664" stroke-width="1"/>
<circle cx="346.5" cy="674.28" r="1.7" fill="none" stroke="#0e4664" stroke-width="1"/>
<rect x="351.75" y="676.61" width="9.1" height="41.99" fill="#fdd85c" stroke="#9a7a2c" stroke-width="1.1"/>
<line x1="356.3" y1="676.06" x2="356.3" y2="674.79" stroke="#9a7a2c" stroke-width="1"/>
<line x1="353.24" y1="674.79" x2="359.36" y2="674.79" stroke="#9a7a2c" stroke-width="1"/>
<circle cx="353.4" cy="675.55" r="1.7" fill="none" stroke="#9a7a2c" stroke-width="1"/>
<circle cx="356.3" cy="677.33" r="1.7" fill="none" stroke="#9a7a2c" stroke-width="1"/>
<circle cx="359.2" cy="675.55" r="1.7" fill="none" stroke="#9a7a2c" stroke-width="1"/>
<text x="246.5" y="733" font-size="12.9" font-weight="bold" text-anchor="middle" fill="#000" stroke="#000" stroke-width="0.15">PAR</text>
<text x="295" y="733" font-size="12.9" font-weight="bold" text-anchor="middle" fill="#000" stroke="#000" stroke-width="0.15">PARP1</text>
<text x="343.6" y="733" font-size="12.9" font-weight="bold" text-anchor="middle" fill="#000" stroke="#000" stroke-width="0.15">HK II</text>
<line x1="233.8" y1="596.4" x2="258.3" y2="596.4" stroke="#000" stroke-width="1.3"/>
<text x="246.05" y="597.71" font-size="9.5" font-weight="bold" text-anchor="middle" fill="#000">***</text>
<line x1="245.6" y1="621.6" x2="262.3" y2="621.6" stroke="#000" stroke-width="1.3"/>
<text x="253.95" y="623.51" font-size="9.5" font-weight="bold" text-anchor="middle" fill="#000">*</text>
<line x1="279.6" y1="634" x2="304.3" y2="634" stroke="#000" stroke-width="1.3"/>
<text x="291.95" y="632.6" font-size="8" font-weight="bold" text-anchor="middle" fill="#000">NS</text>
<line x1="276.3" y1="646.8" x2="294.4" y2="646.8" stroke="#000" stroke-width="1.3"/>
<text x="285.35" y="645.4" font-size="8" font-weight="bold" text-anchor="middle" fill="#000">NS</text>
<line x1="330.6" y1="653" x2="354.7" y2="653" stroke="#000" stroke-width="1.3"/>
<text x="342.65" y="651.6" font-size="8" font-weight="bold" text-anchor="middle" fill="#000">NS</text>
<line x1="327.3" y1="666" x2="346.3" y2="666" stroke="#000" stroke-width="1.3"/>
<text x="336.8" y="664.6" font-size="8" font-weight="bold" text-anchor="middle" fill="#000">NS</text>
<text x="327.3" y="590" font-size="8.5" font-weight="bold" text-anchor="start" fill="#000">Glucose (mM)</text>
<rect x="336.6" y="595.2" width="9.8" height="8.4" fill="#444444" stroke="#111111" stroke-width="1.2"/>
<text x="351.5" y="602.93" font-size="9.8" font-weight="bold" text-anchor="start" fill="#000" stroke="#000" stroke-width="0.1">6.25</text>
<rect x="336.6" y="606" width="9.8" height="8.4" fill="#2478a7" stroke="#0e4664" stroke-width="1.2"/>
<text x="351.5" y="613.73" font-size="9.8" font-weight="bold" text-anchor="start" fill="#000" stroke="#000" stroke-width="0.1">12.5</text>
<rect x="336.6" y="617" width="9.8" height="8.4" fill="#fdd85c" stroke="#9a7a2c" stroke-width="1.2"/>
<text x="351.5" y="624.73" font-size="9.8" font-weight="bold" text-anchor="start" fill="#000" stroke="#000" stroke-width="0.1">25</text>
<text transform="translate(397 566.4) scale(0.89 1)" font-size="17.25" fill="#111" stroke="#111" stroke-width="0.35">I.</text>
<text x="551.7" y="568.2" font-size="7.65" text-anchor="middle" fill="#1e1e1e" stroke="#1e1e1e" stroke-width="0.15">Differentiation (Day)</text>
<text x="446" y="575.8" font-size="7" text-anchor="middle" fill="#1e1e1e" stroke="#1e1e1e" stroke-width="0.15">0</text>
<text x="489.4" y="575.8" font-size="7" text-anchor="middle" fill="#1e1e1e" stroke="#1e1e1e" stroke-width="0.15">1</text>
<text x="551.3" y="575.8" font-size="7" text-anchor="middle" fill="#1e1e1e" stroke="#1e1e1e" stroke-width="0.15">3</text>
<text x="615.6" y="575.8" font-size="7" text-anchor="middle" fill="#1e1e1e" stroke="#1e1e1e" stroke-width="0.15">6</text>
<line x1="462" y1="578.4" x2="513" y2="578.4" stroke="#888" stroke-width="0.8"/>
<line x1="524.8" y1="578.4" x2="574.8" y2="578.4" stroke="#888" stroke-width="0.8"/>
<line x1="589" y1="578.4" x2="639" y2="578.4" stroke="#888" stroke-width="0.8"/>
<text x="433.6" y="587.2" font-size="7.5" text-anchor="end" fill="#1e1e1e" stroke="#1e1e1e" stroke-width="0.15">PJ34</text>
<text x="432.4" y="596" font-size="7.5" text-anchor="end" fill="#1e1e1e" stroke="#1e1e1e" stroke-width="0.15">Dex</text>
<line x1="444.2" y1="585.1" x2="446.8" y2="585.1" stroke="#333" stroke-width="0.9"/>
<line x1="462.2" y1="585.1" x2="464.8" y2="585.1" stroke="#333" stroke-width="0.9"/>
<line x1="477.9" y1="585.1" x2="481.9" y2="585.1" stroke="#333" stroke-width="0.9"/>
<line x1="479.9" y1="583.1" x2="479.9" y2="587.1" stroke="#333" stroke-width="0.9"/>
<line x1="493.7" y1="585.1" x2="496.3" y2="585.1" stroke="#333" stroke-width="0.9"/>
<line x1="508.7" y1="585.1" x2="512.7" y2="585.1" stroke="#333" stroke-width="0.9"/>
<line x1="510.7" y1="583.1" x2="510.7" y2="587.1" stroke="#333" stroke-width="0.9"/>
<line x1="525.7" y1="585.1" x2="528.3" y2="585.1" stroke="#333" stroke-width="0.9"/>
<line x1="540.4" y1="585.1" x2="544.4" y2="585.1" stroke="#333" stroke-width="0.9"/>
<line x1="542.4" y1="583.1" x2="542.4" y2="587.1" stroke="#333" stroke-width="0.9"/>
<line x1="556.2" y1="585.1" x2="558.8" y2="585.1" stroke="#333" stroke-width="0.9"/>
<line x1="570.9" y1="585.1" x2="574.9" y2="585.1" stroke="#333" stroke-width="0.9"/>
<line x1="572.9" y1="583.1" x2="572.9" y2="587.1" stroke="#333" stroke-width="0.9"/>
<line x1="590" y1="585.1" x2="592.6" y2="585.1" stroke="#333" stroke-width="0.9"/>
<line x1="604.7" y1="585.1" x2="608.7" y2="585.1" stroke="#333" stroke-width="0.9"/>
<line x1="606.7" y1="583.1" x2="606.7" y2="587.1" stroke="#333" stroke-width="0.9"/>
<line x1="620.7" y1="585.1" x2="623.3" y2="585.1" stroke="#333" stroke-width="0.9"/>
<line x1="635.7" y1="585.1" x2="639.7" y2="585.1" stroke="#333" stroke-width="0.9"/>
<line x1="637.7" y1="583.1" x2="637.7" y2="587.1" stroke="#333" stroke-width="0.9"/>
<line x1="444.2" y1="593.2" x2="446.8" y2="593.2" stroke="#333" stroke-width="0.9"/>
<line x1="462.2" y1="593.2" x2="464.8" y2="593.2" stroke="#333" stroke-width="0.9"/>
<line x1="478.6" y1="593.2" x2="481.2" y2="593.2" stroke="#333" stroke-width="0.9"/>
<line x1="493" y1="593.2" x2="497" y2="593.2" stroke="#333" stroke-width="0.9"/>
<line x1="495" y1="591.2" x2="495" y2="595.2" stroke="#333" stroke-width="0.9"/>
<line x1="508.7" y1="593.2" x2="512.7" y2="593.2" stroke="#333" stroke-width="0.9"/>
<line x1="510.7" y1="591.2" x2="510.7" y2="595.2" stroke="#333" stroke-width="0.9"/>
<line x1="525.7" y1="593.2" x2="528.3" y2="593.2" stroke="#333" stroke-width="0.9"/>
<line x1="541.1" y1="593.2" x2="543.7" y2="593.2" stroke="#333" stroke-width="0.9"/>
<line x1="555.5" y1="593.2" x2="559.5" y2="593.2" stroke="#333" stroke-width="0.9"/>
<line x1="557.5" y1="591.2" x2="557.5" y2="595.2" stroke="#333" stroke-width="0.9"/>
<line x1="570.9" y1="593.2" x2="574.9" y2="593.2" stroke="#333" stroke-width="0.9"/>
<line x1="572.9" y1="591.2" x2="572.9" y2="595.2" stroke="#333" stroke-width="0.9"/>
<line x1="590" y1="593.2" x2="592.6" y2="593.2" stroke="#333" stroke-width="0.9"/>
<line x1="605.4" y1="593.2" x2="608" y2="593.2" stroke="#333" stroke-width="0.9"/>
<line x1="620" y1="593.2" x2="624" y2="593.2" stroke="#333" stroke-width="0.9"/>
<line x1="622" y1="591.2" x2="622" y2="595.2" stroke="#333" stroke-width="0.9"/>
<line x1="635.7" y1="593.2" x2="639.7" y2="593.2" stroke="#333" stroke-width="0.9"/>
<line x1="637.7" y1="591.2" x2="637.7" y2="595.2" stroke="#333" stroke-width="0.9"/>
<rect x="436.3" y="598" width="214" height="58.3" fill="#d8d8d8" stroke="none" stroke-width="1"/>
<g clip-path="url(#c17)">
<rect x="438.2" y="598" width="15" height="58.3" fill="url(#g32)" filter="url(#b1_3)"/>
<rect x="455.6" y="598" width="12.8" height="58.3" fill="url(#g33)" filter="url(#b1_3)"/>
<rect x="471.3" y="598" width="16" height="58.3" fill="url(#g34)" filter="url(#b1_6)"/>
<rect x="489.85" y="598" width="9.5" height="58.3" fill="url(#g35)" filter="url(#b1_3)"/>
<rect x="503" y="598" width="14" height="58.3" fill="url(#g36)" filter="url(#b1_6)"/>
<rect x="521.55" y="598" width="10.5" height="58.3" fill="url(#g37)" filter="url(#b1_3)"/>
<rect x="552.5" y="598" width="10" height="58.3" fill="url(#g38)" filter="url(#b1_6)"/>
<rect x="584" y="598" width="10" height="58.3" fill="url(#g39)" filter="url(#b1_6)"/>
<rect x="617.5" y="598" width="10" height="58.3" fill="url(#g40)" filter="url(#b1_6)"/>
<rect x="615.9" y="637.9" width="4.2" height="7.2" rx="3" fill="#000" opacity="0.07" filter="url(#b2_0)"/>
<rect x="616.9" y="640.4" width="2.2" height="2.2" rx="0.99" fill="#1c1c1c" opacity="0.6" filter="url(#b0_4)"/>
</g>
<rect x="436.7" y="598.4" width="213.2" height="57.5" fill="none" stroke="#8a8a8a" stroke-width="0.8"/>
<text x="0" y="0" font-size="7.2" text-anchor="end" fill="#444" transform="translate(434.4 624) scale(0.95 1)" stroke="#444" stroke-width="0.1">140</text>
<text x="0" y="0" font-size="7.2" text-anchor="end" fill="#444" transform="translate(434.4 640.2) scale(0.95 1)" stroke="#444" stroke-width="0.1">100</text>
<text x="0" y="0" font-size="7.2" text-anchor="end" fill="#444" transform="translate(434.4 655.3) scale(0.95 1)" stroke="#444" stroke-width="0.1">75</text>
<text x="0" y="0" font-size="8.2" text-anchor="start" fill="#1e1e1e" transform="translate(654 634.1) scale(0.9 1)" stroke="#1e1e1e" stroke-width="0.18">PAR</text>
<rect x="436.3" y="659.4" width="214" height="24.5" fill="#eeeeee" stroke="none" stroke-width="1"/>
<g clip-path="url(#c18)">
<rect x="457" y="659.4" width="13" height="9.6" fill="url(#g41)" filter="url(#b1_0)"/>
<rect x="490.1" y="659.4" width="11" height="9.6" fill="url(#g42)" filter="url(#b1_0)"/>
<rect x="504.6" y="671" width="14" height="12.9" fill="url(#g43)" filter="url(#b1_0)"/>
<rect x="439.35" y="666.2" width="14.5" height="8.2" rx="3" fill="#000" opacity="0.1" filter="url(#b2_0)"/>
<rect x="440.35" y="668.7" width="12.5" height="3.2" rx="1.44" fill="#1c1c1c" opacity="0.85" filter="url(#b0_6)"/>
<rect x="455.75" y="665.8" width="15.5" height="9" rx="3" fill="#000" opacity="0.11" filter="url(#b2_0)"/>
<rect x="456.75" y="668.3" width="13.5" height="4" rx="1.8" fill="#1c1c1c" opacity="0.9" filter="url(#b0_6)"/>
<rect x="474.05" y="666.4" width="12.5" height="7.8" rx="3" fill="#000" opacity="0.1" filter="url(#b2_0)"/>
<rect x="475.05" y="668.9" width="10.5" height="2.8" rx="1.26" fill="#1c1c1c" opacity="0.85" filter="url(#b0_6)"/>
<rect x="489.1" y="666.2" width="13" height="8.2" rx="3" fill="#000" opacity="0.1" filter="url(#b2_0)"/>
<rect x="490.1" y="668.7" width="11" height="3.2" rx="1.44" fill="#1c1c1c" opacity="0.85" filter="url(#b0_6)"/>
<rect x="503.6" y="665" width="16" height="10.6" rx="3" fill="#000" opacity="0.11" filter="url(#b2_0)"/>
<rect x="504.6" y="667.5" width="14" height="5.6" rx="2.52" fill="#1c1c1c" opacity="0.95" filter="url(#b0_6)"/>
<rect x="521.7" y="667.1" width="12" height="7.4" rx="3" fill="#000" opacity="0.08" filter="url(#b2_0)"/>
<rect x="522.7" y="669.6" width="10" height="2.4" rx="1.08" fill="#1c1c1c" opacity="0.7" filter="url(#b0_6)"/>
<rect x="536.7" y="667.1" width="13" height="7.4" rx="3" fill="#000" opacity="0.09" filter="url(#b2_0)"/>
<rect x="537.7" y="669.6" width="11" height="2.4" rx="1.08" fill="#1c1c1c" opacity="0.75" filter="url(#b0_6)"/>
<rect x="552.05" y="666.8" width="13.5" height="8" rx="3" fill="#000" opacity="0.1" filter="url(#b2_0)"/>
<rect x="553.05" y="669.3" width="11.5" height="3" rx="1.35" fill="#1c1c1c" opacity="0.85" filter="url(#b0_6)"/>
<rect x="567.7" y="666.4" width="16" height="8.8" rx="3" fill="#000" opacity="0.11" filter="url(#b2_0)"/>
<rect x="568.7" y="668.9" width="14" height="3.8" rx="1.71" fill="#1c1c1c" opacity="0.9" filter="url(#b0_6)"/>
<rect x="585.75" y="667" width="13.5" height="7.6" rx="3" fill="#000" opacity="0.08" filter="url(#b2_0)"/>
<rect x="586.75" y="669.5" width="11.5" height="2.6" rx="1.17" fill="#1c1c1c" opacity="0.65" filter="url(#b0_6)"/>
<rect x="601.3" y="667.2" width="13" height="7.2" rx="3" fill="#000" opacity="0.06" filter="url(#b2_0)"/>
<rect x="602.3" y="669.7" width="11" height="2.2" rx="0.99" fill="#1c1c1c" opacity="0.5" filter="url(#b0_6)"/>
<rect x="616.45" y="667" width="13.5" height="7.6" rx="3" fill="#000" opacity="0.08" filter="url(#b2_0)"/>
<rect x="617.45" y="669.5" width="11.5" height="2.6" rx="1.17" fill="#1c1c1c" opacity="0.7" filter="url(#b0_6)"/>
<rect x="632.45" y="666.6" width="15.5" height="8.4" rx="3" fill="#000" opacity="0.11" filter="url(#b2_0)"/>
<rect x="633.45" y="669.1" width="13.5" height="3.4" rx="1.53" fill="#1c1c1c" opacity="0.88" filter="url(#b0_6)"/>
</g>
<rect x="436.7" y="659.8" width="213.2" height="23.7" fill="none" stroke="#8a8a8a" stroke-width="0.8"/>
<text x="0" y="0" font-size="7.2" text-anchor="end" fill="#444" transform="translate(434.4 682) scale(0.95 1)" stroke="#444" stroke-width="0.1">100</text>
<text x="0" y="0" font-size="8.2" text-anchor="start" fill="#1e1e1e" transform="translate(654 675) scale(0.9 1)" stroke="#1e1e1e" stroke-width="0.18">PARP1</text>
<rect x="436.3" y="686.6" width="214" height="20.8" fill="#e5e5e5" stroke="none" stroke-width="1"/>
<g clip-path="url(#c19)">
<rect x="458" y="689.9" width="11" height="2.2" rx="0.99" fill="#000" opacity="0.2" filter="url(#b0_8)"/>
<rect x="474.8" y="689.9" width="11" height="2.2" rx="0.99" fill="#000" opacity="0.15" filter="url(#b0_8)"/>
<rect x="490.1" y="689.9" width="11" height="2.2" rx="0.99" fill="#000" opacity="0.2" filter="url(#b0_8)"/>
<rect x="506.1" y="689.9" width="11" height="2.2" rx="0.99" fill="#000" opacity="0.2" filter="url(#b0_8)"/>
<rect x="522.2" y="689.9" width="11" height="2.2" rx="0.99" fill="#000" opacity="0.2" filter="url(#b0_8)"/>
<rect x="537.7" y="689.9" width="11" height="2.2" rx="0.99" fill="#000" opacity="0.25" filter="url(#b0_8)"/>
<rect x="553.3" y="689.9" width="11" height="2.2" rx="0.99" fill="#000" opacity="0.15" filter="url(#b0_8)"/>
<rect x="570.2" y="689.9" width="11" height="2.2" rx="0.99" fill="#000" opacity="0.12" filter="url(#b0_8)"/>
<rect x="587" y="689.9" width="11" height="2.2" rx="0.99" fill="#000" opacity="0.12" filter="url(#b0_8)"/>
<rect x="602.3" y="689.9" width="11" height="2.2" rx="0.99" fill="#000" opacity="0.1" filter="url(#b0_8)"/>
<rect x="617.7" y="689.9" width="11" height="2.2" rx="0.99" fill="#000" opacity="0.12" filter="url(#b0_8)"/>
<rect x="634.7" y="689.9" width="11" height="2.2" rx="0.99" fill="#000" opacity="0.25" filter="url(#b0_8)"/>
<rect x="440.6" y="697" width="12" height="2.4" rx="1.08" fill="#1c1c1c" opacity="0.08" filter="url(#b0_8)"/>
<rect x="457.5" y="696.9" width="12" height="2.6" rx="1.17" fill="#1c1c1c" opacity="0.25" filter="url(#b0_8)"/>
<rect x="474.8" y="697" width="11" height="2.4" rx="1.08" fill="#1c1c1c" opacity="0.12" filter="url(#b0_8)"/>
<rect x="489.1" y="694.3" width="13" height="7.8" rx="3" fill="#000" opacity="0.05" filter="url(#b2_0)"/>
<rect x="490.1" y="696.8" width="11" height="2.8" rx="1.26" fill="#1c1c1c" opacity="0.45" filter="url(#b0_8)"/>
<rect x="505.6" y="696.9" width="12" height="2.6" rx="1.17" fill="#1c1c1c" opacity="0.18" filter="url(#b0_8)"/>
<rect x="520.2" y="693.2" width="15" height="10" rx="3" fill="#000" opacity="0.11" filter="url(#b2_0)"/>
<rect x="521.2" y="695.7" width="13" height="5" rx="2.25" fill="#1c1c1c" opacity="0.95" filter="url(#b0_8)"/>
<rect x="536.2" y="694.2" width="14" height="8" rx="3" fill="#000" opacity="0.07" filter="url(#b2_0)"/>
<rect x="537.2" y="696.7" width="12" height="3" rx="1.35" fill="#1c1c1c" opacity="0.55" filter="url(#b0_8)"/>
<rect x="551.3" y="692.8" width="15" height="10.8" rx="3" fill="#000" opacity="0.11" filter="url(#b2_0)"/>
<rect x="552.3" y="695.3" width="13" height="5.8" rx="2.61" fill="#1c1c1c" opacity="0.95" filter="url(#b0_8)"/>
<rect x="568.45" y="693.9" width="14.5" height="8.6" rx="3" fill="#000" opacity="0.1" filter="url(#b2_0)"/>
<rect x="569.45" y="696.4" width="12.5" height="3.6" rx="1.62" fill="#1c1c1c" opacity="0.8" filter="url(#b0_8)"/>
<rect x="585.25" y="693.4" width="14.5" height="9.6" rx="3" fill="#000" opacity="0.11" filter="url(#b2_0)"/>
<rect x="586.25" y="695.9" width="12.5" height="4.6" rx="2.07" fill="#1c1c1c" opacity="0.95" filter="url(#b0_8)"/>
<rect x="601.55" y="694.4" width="12.5" height="7.6" rx="3" fill="#000" opacity="0.06" filter="url(#b2_0)"/>
<rect x="602.55" y="696.9" width="10.5" height="2.6" rx="1.17" fill="#1c1c1c" opacity="0.5" filter="url(#b0_8)"/>
<rect x="616.45" y="694.1" width="13.5" height="8.2" rx="3" fill="#000" opacity="0.1" filter="url(#b2_0)"/>
<rect x="617.45" y="696.6" width="11.5" height="3.2" rx="1.44" fill="#1c1c1c" opacity="0.8" filter="url(#b0_8)"/>
<rect x="632.2" y="692.9" width="16" height="10.6" rx="3" fill="#000" opacity="0.11" filter="url(#b2_0)"/>
<rect x="633.2" y="695.4" width="14" height="5.6" rx="2.52" fill="#1c1c1c" opacity="0.95" filter="url(#b0_8)"/>
</g>
<rect x="436.7" y="687" width="213.2" height="20" fill="none" stroke="#8a8a8a" stroke-width="0.8"/>
<text x="0" y="0" font-size="7.2" text-anchor="end" fill="#444" transform="translate(434.4 696.5) scale(0.95 1)" stroke="#444" stroke-width="0.1">35</text>
<text x="0" y="0" font-size="8.2" text-anchor="start" fill="#1e1e1e" transform="translate(654 702.3) scale(0.9 1)" stroke="#1e1e1e" stroke-width="0.18">Myogenin</text>
<rect x="436.3" y="711" width="214" height="26" fill="#f0f0f0" stroke="none" stroke-width="1"/>
<g clip-path="url(#c20)">
<rect x="438.1" y="715.8" width="17" height="10" rx="3" fill="#000" opacity="0.11" filter="url(#b2_0)"/>
<rect x="439.1" y="718.3" width="15" height="5" rx="2.25" fill="#1c1c1c" opacity="0.92" filter="url(#b0_8)"/>
<rect x="455.5" y="716.6" width="16" height="9.3" rx="3" fill="#000" opacity="0.11" filter="url(#b2_0)"/>
<rect x="456.5" y="719.1" width="14" height="4.3" rx="1.94" fill="#1c1c1c" opacity="0.9" filter="url(#b0_8)"/>
<rect x="472.55" y="717.05" width="15.5" height="9.3" rx="3" fill="#000" opacity="0.11" filter="url(#b2_0)"/>
<rect x="473.55" y="719.55" width="13.5" height="4.3" rx="1.94" fill="#1c1c1c" opacity="0.9" filter="url(#b0_8)"/>
<rect x="488.35" y="717.6" width="14.5" height="9.1" rx="3" fill="#000" opacity="0.11" filter="url(#b2_0)"/>
<rect x="489.35" y="720.1" width="12.5" height="4.1" rx="1.84" fill="#1c1c1c" opacity="0.9" filter="url(#b0_8)"/>
<rect x="503.85" y="718.05" width="15.5" height="9.1" rx="3" fill="#000" opacity="0.11" filter="url(#b2_0)"/>
<rect x="504.85" y="720.55" width="13.5" height="4.1" rx="1.84" fill="#1c1c1c" opacity="0.9" filter="url(#b0_8)"/>
<rect x="520.2" y="718.5" width="15" height="9.1" rx="3" fill="#000" opacity="0.11" filter="url(#b2_0)"/>
<rect x="521.2" y="721" width="13" height="4.1" rx="1.84" fill="#1c1c1c" opacity="0.9" filter="url(#b0_8)"/>
<rect x="535.95" y="719" width="14.5" height="9" rx="3" fill="#000" opacity="0.11" filter="url(#b2_0)"/>
<rect x="536.95" y="721.5" width="12.5" height="4" rx="1.8" fill="#1c1c1c" opacity="0.9" filter="url(#b0_8)"/>
<rect x="551.55" y="719.3" width="14.5" height="9" rx="3" fill="#000" opacity="0.11" filter="url(#b2_0)"/>
<rect x="552.55" y="721.8" width="12.5" height="4" rx="1.8" fill="#1c1c1c" opacity="0.88" filter="url(#b0_8)"/>
<rect x="567.45" y="719.15" width="16.5" height="9.3" rx="3" fill="#000" opacity="0.11" filter="url(#b2_0)"/>
<rect x="568.45" y="721.65" width="14.5" height="4.3" rx="1.94" fill="#1c1c1c" opacity="0.9" filter="url(#b0_8)"/>
<rect x="585.25" y="719.35" width="14.5" height="8.9" rx="3" fill="#000" opacity="0.1" filter="url(#b2_0)"/>
<rect x="586.25" y="721.85" width="12.5" height="3.9" rx="1.75" fill="#1c1c1c" opacity="0.86" filter="url(#b0_8)"/>
<rect x="601.05" y="719.35" width="13.5" height="8.9" rx="3" fill="#000" opacity="0.1" filter="url(#b2_0)"/>
<rect x="602.05" y="721.85" width="11.5" height="3.9" rx="1.75" fill="#1c1c1c" opacity="0.86" filter="url(#b0_8)"/>
<rect x="616.45" y="719.55" width="13.5" height="8.5" rx="3" fill="#000" opacity="0.1" filter="url(#b2_0)"/>
<rect x="617.45" y="722.05" width="11.5" height="3.5" rx="1.57" fill="#1c1c1c" opacity="0.8" filter="url(#b0_8)"/>
<rect x="632.2" y="718.9" width="16" height="9.8" rx="3" fill="#000" opacity="0.11" filter="url(#b2_0)"/>
<rect x="633.2" y="721.4" width="14" height="4.8" rx="2.16" fill="#1c1c1c" opacity="0.92" filter="url(#b0_8)"/>
</g>
<rect x="436.7" y="711.4" width="213.2" height="25.2" fill="none" stroke="#8a8a8a" stroke-width="0.8"/>
<text x="0" y="0" font-size="7.2" text-anchor="end" fill="#444" transform="translate(434.4 722) scale(0.95 1)" stroke="#444" stroke-width="0.1">50</text>
<text x="0" y="0" font-size="8.2" text-anchor="start" fill="#1e1e1e" transform="translate(654 729.5) scale(0.9 1)" stroke="#1e1e1e" stroke-width="0.18">α-Tubulin</text>
<text transform="translate(1 761.7) scale(0.89 1)" font-size="17.25" fill="#111" stroke="#111" stroke-width="0.35">J.</text>
<line x1="108.5" y1="791" x2="108.5" y2="921.2" stroke="#000" stroke-width="1.2"/>
<line x1="105" y1="920.6" x2="108.5" y2="920.6" stroke="#000" stroke-width="1.2"/>
<text x="103.5" y="924.67" font-size="11.3" font-weight="bold" text-anchor="end" fill="#000" stroke="#000" stroke-width="0.1">0.0</text>
<line x1="105" y1="888.5" x2="108.5" y2="888.5" stroke="#000" stroke-width="1.2"/>
<text x="103.5" y="892.57" font-size="11.3" font-weight="bold" text-anchor="end" fill="#000" stroke="#000" stroke-width="0.1">0.5</text>
<line x1="105" y1="856.4" x2="108.5" y2="856.4" stroke="#000" stroke-width="1.2"/>
<text x="103.5" y="860.47" font-size="11.3" font-weight="bold" text-anchor="end" fill="#000" stroke="#000" stroke-width="0.1">1.0</text>
<line x1="105" y1="824.3" x2="108.5" y2="824.3" stroke="#000" stroke-width="1.2"/>
<text x="103.5" y="828.37" font-size="11.3" font-weight="bold" text-anchor="end" fill="#000" stroke="#000" stroke-width="0.1">1.5</text>
<line x1="105" y1="792.2" x2="108.5" y2="792.2" stroke="#000" stroke-width="1.2"/>
<text x="103.5" y="796.27" font-size="11.3" font-weight="bold" text-anchor="end" fill="#000" stroke="#000" stroke-width="0.1">2.0</text>
<line x1="108.5" y1="920.6" x2="251.9" y2="920.6" stroke="#000" stroke-width="1.3"/>
<line x1="266.7" y1="919.4" x2="409.2" y2="919.4" stroke="#000" stroke-width="1.3"/>
<line x1="429.9" y1="920" x2="571" y2="920" stroke="#000" stroke-width="1.3"/>
<text x="68.33" y="853" font-size="11.2" font-weight="bold" text-anchor="middle" fill="#000" transform="rotate(-90 68.33 853)">Fold Change</text>
<text x="81.33" y="853" font-size="11.2" font-weight="bold" text-anchor="middle" fill="#000" transform="rotate(-90 81.33 853)">Relative to alpha-Tubulin</text>
<rect x="113.15" y="821.64" width="6.2" height="98.96" fill="#444444" stroke="#111111" stroke-width="1.1"/>
<line x1="116.25" y1="821.09" x2="116.25" y2="812.2" stroke="#111111" stroke-width="1"/>
<line x1="114.06" y1="812.2" x2="118.44" y2="812.2" stroke="#111111" stroke-width="1"/>
<circle cx="116.25" cy="813.53" r="1.7" fill="none" stroke="#111111" stroke-width="1"/>
<circle cx="115.67" cy="818.42" r="1.7" fill="none" stroke="#111111" stroke-width="1"/>
<circle cx="116.83" cy="825.09" r="1.7" fill="none" stroke="#e8e8e8" stroke-width="1"/>
<rect x="123.65" y="901.89" width="6.2" height="18.71" fill="#2478a7" stroke="#0e4664" stroke-width="1.1"/>
<line x1="126.75" y1="901.34" x2="126.75" y2="898.07" stroke="#0e4664" stroke-width="1"/>
<line x1="124.56" y1="898.07" x2="128.94" y2="898.07" stroke="#0e4664" stroke-width="1"/>
<circle cx="126.75" cy="898.56" r="1.7" fill="none" stroke="#0e4664" stroke-width="1"/>
<circle cx="126.17" cy="900.36" r="1.7" fill="none" stroke="#0e4664" stroke-width="1"/>
<circle cx="127.33" cy="902.81" r="1.7" fill="none" stroke="#0e4664" stroke-width="1"/>
<rect x="134.15" y="867.86" width="6.2" height="52.74" fill="#fdd85c" stroke="#9a7a2c" stroke-width="1.1"/>
<line x1="137.25" y1="867.31" x2="137.25" y2="861.66" stroke="#9a7a2c" stroke-width="1"/>
<line x1="135.06" y1="861.66" x2="139.44" y2="861.66" stroke="#9a7a2c" stroke-width="1"/>
<circle cx="137.25" cy="862.51" r="1.7" fill="none" stroke="#9a7a2c" stroke-width="1"/>
<circle cx="136.67" cy="865.62" r="1.7" fill="none" stroke="#9a7a2c" stroke-width="1"/>
<circle cx="137.83" cy="869.86" r="1.7" fill="none" stroke="#9a7a2c" stroke-width="1"/>
<rect x="144.65" y="908.95" width="6.2" height="11.65" fill="#d6eedf" stroke="#5e9a8d" stroke-width="1.1"/>
<line x1="147.75" y1="908.4" x2="147.75" y2="905.62" stroke="#5e9a8d" stroke-width="1"/>
<line x1="145.56" y1="905.62" x2="149.94" y2="905.62" stroke="#5e9a8d" stroke-width="1"/>
<circle cx="147.75" cy="906.04" r="1.7" fill="none" stroke="#5e9a8d" stroke-width="1"/>
<circle cx="147.17" cy="907.57" r="1.7" fill="none" stroke="#5e9a8d" stroke-width="1"/>
<circle cx="148.33" cy="909.65" r="1.7" fill="none" stroke="#5e9a8d" stroke-width="1"/>
<rect x="161.75" y="856.95" width="6.2" height="63.65" fill="#444444" stroke="#111111" stroke-width="1.1"/>
<line x1="164.85" y1="856.4" x2="164.85" y2="849.98" stroke="#111111" stroke-width="1"/>
<line x1="162.66" y1="849.98" x2="167.04" y2="849.98" stroke="#111111" stroke-width="1"/>
<circle cx="164.85" cy="850.94" r="1.7" fill="none" stroke="#111111" stroke-width="1"/>
<circle cx="164.27" cy="854.47" r="1.7" fill="none" stroke="#111111" stroke-width="1"/>
<circle cx="165.43" cy="859.29" r="1.7" fill="none" stroke="#e8e8e8" stroke-width="1"/>
<rect x="172.25" y="873" width="6.2" height="47.6" fill="#2478a7" stroke="#0e4664" stroke-width="1.1"/>
<line x1="175.35" y1="872.45" x2="175.35" y2="867.15" stroke="#0e4664" stroke-width="1"/>
<line x1="173.16" y1="867.15" x2="177.54" y2="867.15" stroke="#0e4664" stroke-width="1"/>
<circle cx="175.35" cy="867.95" r="1.7" fill="none" stroke="#0e4664" stroke-width="1"/>
<circle cx="174.77" cy="870.86" r="1.7" fill="none" stroke="#0e4664" stroke-width="1"/>
<circle cx="175.93" cy="874.83" r="1.7" fill="none" stroke="#0e4664" stroke-width="1"/>
<rect x="182.75" y="863.37" width="6.2" height="57.23" fill="#fdd85c" stroke="#9a7a2c" stroke-width="1.1"/>
<line x1="185.85" y1="862.82" x2="185.85" y2="856.85" stroke="#9a7a2c" stroke-width="1"/>
<line x1="183.66" y1="856.85" x2="188.04" y2="856.85" stroke="#9a7a2c" stroke-width="1"/>
<circle cx="185.85" cy="857.74" r="1.7" fill="none" stroke="#9a7a2c" stroke-width="1"/>
<circle cx="185.27" cy="861.03" r="1.7" fill="none" stroke="#9a7a2c" stroke-width="1"/>
<circle cx="186.43" cy="865.51" r="1.7" fill="none" stroke="#9a7a2c" stroke-width="1"/>
<rect x="193.25" y="849.25" width="6.2" height="71.35" fill="#d6eedf" stroke="#5e9a8d" stroke-width="1.1"/>
<line x1="196.35" y1="848.7" x2="196.35" y2="841.74" stroke="#5e9a8d" stroke-width="1"/>
<line x1="194.16" y1="841.74" x2="198.54" y2="841.74" stroke="#5e9a8d" stroke-width="1"/>
<circle cx="196.35" cy="842.78" r="1.7" fill="none" stroke="#5e9a8d" stroke-width="1"/>
<circle cx="195.77" cy="846.61" r="1.7" fill="none" stroke="#5e9a8d" stroke-width="1"/>
<circle cx="196.93" cy="851.83" r="1.7" fill="none" stroke="#5e9a8d" stroke-width="1"/>
<rect x="210.45" y="911.52" width="6.2" height="9.08" fill="#444444" stroke="#111111" stroke-width="1.1"/>
<line x1="213.55" y1="910.97" x2="213.55" y2="908.37" stroke="#111111" stroke-width="1"/>
<line x1="211.36" y1="908.37" x2="215.74" y2="908.37" stroke="#111111" stroke-width="1"/>
<circle cx="213.55" cy="908.76" r="1.7" fill="none" stroke="#111111" stroke-width="1"/>
<circle cx="212.97" cy="910.19" r="1.7" fill="none" stroke="#111111" stroke-width="1"/>
<circle cx="214.13" cy="912.14" r="1.7" fill="none" stroke="#e8e8e8" stroke-width="1"/>
<rect x="220.95" y="912.8" width="6.2" height="7.8" fill="#2478a7" stroke="#0e4664" stroke-width="1.1"/>
<line x1="224.05" y1="912.25" x2="224.05" y2="909.74" stroke="#0e4664" stroke-width="1"/>
<line x1="221.86" y1="909.74" x2="226.24" y2="909.74" stroke="#0e4664" stroke-width="1"/>
<circle cx="224.05" cy="910.12" r="1.7" fill="none" stroke="#0e4664" stroke-width="1"/>
<circle cx="223.47" cy="911.5" r="1.7" fill="none" stroke="#0e4664" stroke-width="1"/>
<circle cx="224.63" cy="913.38" r="1.7" fill="none" stroke="#0e4664" stroke-width="1"/>
<rect x="231.45" y="908.31" width="6.2" height="12.29" fill="#fdd85c" stroke="#9a7a2c" stroke-width="1.1"/>
<line x1="234.55" y1="907.76" x2="234.55" y2="904.94" stroke="#9a7a2c" stroke-width="1"/>
<line x1="232.36" y1="904.94" x2="236.74" y2="904.94" stroke="#9a7a2c" stroke-width="1"/>
<circle cx="234.55" cy="905.36" r="1.7" fill="none" stroke="#9a7a2c" stroke-width="1"/>
<circle cx="233.97" cy="906.91" r="1.7" fill="none" stroke="#9a7a2c" stroke-width="1"/>
<circle cx="235.13" cy="909.03" r="1.7" fill="none" stroke="#9a7a2c" stroke-width="1"/>
<rect x="241.95" y="910.24" width="6.2" height="10.36" fill="#d6eedf" stroke="#5e9a8d" stroke-width="1.1"/>
<line x1="245.05" y1="909.69" x2="245.05" y2="907" stroke="#5e9a8d" stroke-width="1"/>
<line x1="242.86" y1="907" x2="247.24" y2="907" stroke="#5e9a8d" stroke-width="1"/>
<circle cx="245.05" cy="907.4" r="1.7" fill="none" stroke="#5e9a8d" stroke-width="1"/>
<circle cx="244.47" cy="908.88" r="1.7" fill="none" stroke="#5e9a8d" stroke-width="1"/>
<circle cx="245.63" cy="910.9" r="1.7" fill="none" stroke="#5e9a8d" stroke-width="1"/>
<rect x="269.15" y="874.93" width="6.2" height="45.67" fill="#444444" stroke="#111111" stroke-width="1.1"/>
<line x1="272.25" y1="874.38" x2="272.25" y2="869.21" stroke="#111111" stroke-width="1"/>
<line x1="270.06" y1="869.21" x2="274.44" y2="869.21" stroke="#111111" stroke-width="1"/>
<circle cx="272.25" cy="869.99" r="1.7" fill="none" stroke="#111111" stroke-width="1"/>
<circle cx="271.67" cy="872.83" r="1.7" fill="none" stroke="#111111" stroke-width="1"/>
<circle cx="272.83" cy="876.7" r="1.7" fill="none" stroke="#e8e8e8" stroke-width="1"/>
<rect x="279.65" y="912.8" width="6.2" height="7.8" fill="#2478a7" stroke="#0e4664" stroke-width="1.1"/>
<line x1="282.75" y1="912.25" x2="282.75" y2="909.74" stroke="#0e4664" stroke-width="1"/>
<line x1="280.56" y1="909.74" x2="284.94" y2="909.74" stroke="#0e4664" stroke-width="1"/>
<circle cx="282.75" cy="910.12" r="1.7" fill="none" stroke="#0e4664" stroke-width="1"/>
<circle cx="282.17" cy="911.5" r="1.7" fill="none" stroke="#0e4664" stroke-width="1"/>
<circle cx="283.33" cy="913.38" r="1.7" fill="none" stroke="#0e4664" stroke-width="1"/>
<rect x="290.15" y="896.11" width="6.2" height="24.49" fill="#fdd85c" stroke="#9a7a2c" stroke-width="1.1"/>
<line x1="293.25" y1="895.56" x2="293.25" y2="891.88" stroke="#9a7a2c" stroke-width="1"/>
<line x1="291.06" y1="891.88" x2="295.44" y2="891.88" stroke="#9a7a2c" stroke-width="1"/>
<circle cx="293.25" cy="892.44" r="1.7" fill="none" stroke="#9a7a2c" stroke-width="1"/>
<circle cx="292.67" cy="894.46" r="1.7" fill="none" stroke="#9a7a2c" stroke-width="1"/>
<circle cx="293.83" cy="897.22" r="1.7" fill="none" stroke="#9a7a2c" stroke-width="1"/>
<rect x="300.65" y="916.01" width="6.2" height="4.59" fill="#d6eedf" stroke="#5e9a8d" stroke-width="1.1"/>
<line x1="303.75" y1="915.46" x2="303.75" y2="913.18" stroke="#5e9a8d" stroke-width="1"/>
<line x1="301.56" y1="913.18" x2="305.94" y2="913.18" stroke="#5e9a8d" stroke-width="1"/>
<circle cx="303.75" cy="913.52" r="1.7" fill="none" stroke="#5e9a8d" stroke-width="1"/>
<circle cx="303.17" cy="914.78" r="1.7" fill="none" stroke="#5e9a8d" stroke-width="1"/>
<circle cx="304.33" cy="916.49" r="1.7" fill="none" stroke="#5e9a8d" stroke-width="1"/>
<rect x="318.55" y="892.9" width="6.2" height="27.7" fill="#444444" stroke="#111111" stroke-width="1.1"/>
<line x1="321.65" y1="892.35" x2="321.65" y2="888.45" stroke="#111111" stroke-width="1"/>
<line x1="319.46" y1="888.45" x2="323.84" y2="888.45" stroke="#111111" stroke-width="1"/>
<circle cx="321.65" cy="889.03" r="1.7" fill="none" stroke="#111111" stroke-width="1"/>
<circle cx="321.07" cy="891.18" r="1.7" fill="none" stroke="#111111" stroke-width="1"/>
<circle cx="322.23" cy="894.11" r="1.7" fill="none" stroke="#e8e8e8" stroke-width="1"/>
<rect x="329.05" y="894.19" width="6.2" height="26.41" fill="#2478a7" stroke="#0e4664" stroke-width="1.1"/>
<line x1="332.15" y1="893.64" x2="332.15" y2="889.82" stroke="#0e4664" stroke-width="1"/>
<line x1="329.96" y1="889.82" x2="334.34" y2="889.82" stroke="#0e4664" stroke-width="1"/>
<circle cx="332.15" cy="890.39" r="1.7" fill="none" stroke="#0e4664" stroke-width="1"/>
<circle cx="331.57" cy="892.49" r="1.7" fill="none" stroke="#0e4664" stroke-width="1"/>
<circle cx="332.73" cy="895.35" r="1.7" fill="none" stroke="#0e4664" stroke-width="1"/>
<rect x="339.55" y="879.42" width="6.2" height="41.18" fill="#fdd85c" stroke="#9a7a2c" stroke-width="1.1"/>
<line x1="342.65" y1="878.87" x2="342.65" y2="874.02" stroke="#9a7a2c" stroke-width="1"/>
<line x1="340.46" y1="874.02" x2="344.84" y2="874.02" stroke="#9a7a2c" stroke-width="1"/>
<circle cx="342.65" cy="874.75" r="1.7" fill="none" stroke="#9a7a2c" stroke-width="1"/>
<circle cx="342.07" cy="877.42" r="1.7" fill="none" stroke="#9a7a2c" stroke-width="1"/>
<circle cx="343.23" cy="881.05" r="1.7" fill="none" stroke="#9a7a2c" stroke-width="1"/>
<rect x="350.05" y="864.65" width="6.2" height="55.95" fill="#d6eedf" stroke="#5e9a8d" stroke-width="1.1"/>
<line x1="353.15" y1="864.1" x2="353.15" y2="858.22" stroke="#5e9a8d" stroke-width="1"/>
<line x1="350.96" y1="858.22" x2="355.34" y2="858.22" stroke="#5e9a8d" stroke-width="1"/>
<circle cx="353.15" cy="859.11" r="1.7" fill="none" stroke="#5e9a8d" stroke-width="1"/>
<circle cx="352.57" cy="862.34" r="1.7" fill="none" stroke="#5e9a8d" stroke-width="1"/>
<circle cx="353.73" cy="866.75" r="1.7" fill="none" stroke="#5e9a8d" stroke-width="1"/>
<rect x="367.55" y="840.9" width="6.2" height="79.7" fill="#444444" stroke="#111111" stroke-width="1.1"/>
<line x1="370.65" y1="840.35" x2="370.65" y2="832.81" stroke="#111111" stroke-width="1"/>
<line x1="368.46" y1="832.81" x2="372.84" y2="832.81" stroke="#111111" stroke-width="1"/>
<circle cx="370.65" cy="833.94" r="1.7" fill="none" stroke="#111111" stroke-width="1"/>
<circle cx="370.07" cy="838.09" r="1.7" fill="none" stroke="#111111" stroke-width="1"/>
<circle cx="371.23" cy="843.74" r="1.7" fill="none" stroke="#e8e8e8" stroke-width="1"/>
<rect x="378.05" y="866.58" width="6.2" height="54.02" fill="#2478a7" stroke="#0e4664" stroke-width="1.1"/>
<line x1="381.15" y1="866.03" x2="381.15" y2="860.28" stroke="#0e4664" stroke-width="1"/>
<line x1="378.96" y1="860.28" x2="383.34" y2="860.28" stroke="#0e4664" stroke-width="1"/>
<circle cx="381.15" cy="861.15" r="1.7" fill="none" stroke="#0e4664" stroke-width="1"/>
<circle cx="380.57" cy="864.31" r="1.7" fill="none" stroke="#0e4664" stroke-width="1"/>
<circle cx="381.73" cy="868.62" r="1.7" fill="none" stroke="#0e4664" stroke-width="1"/>
<rect x="388.55" y="831.91" width="6.2" height="88.69" fill="#fdd85c" stroke="#9a7a2c" stroke-width="1.1"/>
<line x1="391.65" y1="831.36" x2="391.65" y2="823.19" stroke="#9a7a2c" stroke-width="1"/>
<line x1="389.46" y1="823.19" x2="393.84" y2="823.19" stroke="#9a7a2c" stroke-width="1"/>
<circle cx="391.65" cy="824.42" r="1.7" fill="none" stroke="#9a7a2c" stroke-width="1"/>
<circle cx="391.07" cy="828.91" r="1.7" fill="none" stroke="#9a7a2c" stroke-width="1"/>
<circle cx="392.23" cy="835.04" r="1.7" fill="none" stroke="#9a7a2c" stroke-width="1"/>
<rect x="399.05" y="851.81" width="6.2" height="68.79" fill="#d6eedf" stroke="#5e9a8d" stroke-width="1.1"/>
<line x1="402.15" y1="851.26" x2="402.15" y2="844.48" stroke="#5e9a8d" stroke-width="1"/>
<line x1="399.96" y1="844.48" x2="404.34" y2="844.48" stroke="#5e9a8d" stroke-width="1"/>
<circle cx="402.15" cy="845.5" r="1.7" fill="none" stroke="#5e9a8d" stroke-width="1"/>
<circle cx="401.57" cy="849.23" r="1.7" fill="none" stroke="#5e9a8d" stroke-width="1"/>
<circle cx="402.73" cy="854.31" r="1.7" fill="none" stroke="#5e9a8d" stroke-width="1"/>
<rect x="431.15" y="913.45" width="6.2" height="7.15" fill="#444444" stroke="#111111" stroke-width="1.1"/>
<line x1="434.25" y1="912.9" x2="434.25" y2="910.43" stroke="#111111" stroke-width="1"/>
<line x1="432.06" y1="910.43" x2="436.44" y2="910.43" stroke="#111111" stroke-width="1"/>
<circle cx="434.25" cy="910.8" r="1.7" fill="none" stroke="#111111" stroke-width="1"/>
<circle cx="433.67" cy="912.16" r="1.7" fill="none" stroke="#111111" stroke-width="1"/>
<circle cx="434.83" cy="914.01" r="1.7" fill="none" stroke="#e8e8e8" stroke-width="1"/>
<rect x="441.65" y="919.87" width="6.2" height="0.73" fill="#2478a7" stroke="#0e4664" stroke-width="1.1"/>
<line x1="444.75" y1="919.32" x2="444.75" y2="917.3" stroke="#0e4664" stroke-width="1"/>
<line x1="442.56" y1="917.3" x2="446.94" y2="917.3" stroke="#0e4664" stroke-width="1"/>
<circle cx="444.75" cy="917.6" r="1.7" fill="none" stroke="#0e4664" stroke-width="1"/>
<circle cx="444.17" cy="918.71" r="1.7" fill="none" stroke="#0e4664" stroke-width="1"/>
<circle cx="445.33" cy="920.22" r="1.7" fill="none" stroke="#0e4664" stroke-width="1"/>
<rect x="452.15" y="912.8" width="6.2" height="7.8" fill="#fdd85c" stroke="#9a7a2c" stroke-width="1.1"/>
<line x1="455.25" y1="912.25" x2="455.25" y2="909.74" stroke="#9a7a2c" stroke-width="1"/>
<line x1="453.06" y1="909.74" x2="457.44" y2="909.74" stroke="#9a7a2c" stroke-width="1"/>
<circle cx="455.25" cy="910.12" r="1.7" fill="none" stroke="#9a7a2c" stroke-width="1"/>
<circle cx="454.67" cy="911.5" r="1.7" fill="none" stroke="#9a7a2c" stroke-width="1"/>
<circle cx="455.83" cy="913.38" r="1.7" fill="none" stroke="#9a7a2c" stroke-width="1"/>
<rect x="462.65" y="914.73" width="6.2" height="5.87" fill="#d6eedf" stroke="#5e9a8d" stroke-width="1.1"/>
<line x1="465.75" y1="914.18" x2="465.75" y2="911.8" stroke="#5e9a8d" stroke-width="1"/>
<line x1="463.56" y1="911.8" x2="467.94" y2="911.8" stroke="#5e9a8d" stroke-width="1"/>
<circle cx="465.75" cy="912.16" r="1.7" fill="none" stroke="#5e9a8d" stroke-width="1"/>
<circle cx="465.17" cy="913.47" r="1.7" fill="none" stroke="#5e9a8d" stroke-width="1"/>
<circle cx="466.33" cy="915.25" r="1.7" fill="none" stroke="#5e9a8d" stroke-width="1"/>
<rect x="480.15" y="894.19" width="6.2" height="26.41" fill="#444444" stroke="#111111" stroke-width="1.1"/>
<line x1="483.25" y1="893.64" x2="483.25" y2="889.82" stroke="#111111" stroke-width="1"/>
<line x1="481.06" y1="889.82" x2="485.44" y2="889.82" stroke="#111111" stroke-width="1"/>
<circle cx="483.25" cy="890.39" r="1.7" fill="none" stroke="#111111" stroke-width="1"/>
<circle cx="482.67" cy="892.49" r="1.7" fill="none" stroke="#111111" stroke-width="1"/>
<circle cx="483.83" cy="895.35" r="1.7" fill="none" stroke="#e8e8e8" stroke-width="1"/>
<rect x="490.65" y="904.46" width="6.2" height="16.14" fill="#2478a7" stroke="#0e4664" stroke-width="1.1"/>
<line x1="493.75" y1="903.91" x2="493.75" y2="900.81" stroke="#0e4664" stroke-width="1"/>
<line x1="491.56" y1="900.81" x2="495.94" y2="900.81" stroke="#0e4664" stroke-width="1"/>
<circle cx="493.75" cy="901.28" r="1.7" fill="none" stroke="#0e4664" stroke-width="1"/>
<circle cx="493.17" cy="902.98" r="1.7" fill="none" stroke="#0e4664" stroke-width="1"/>
<circle cx="494.33" cy="905.3" r="1.7" fill="none" stroke="#0e4664" stroke-width="1"/>
<rect x="501.15" y="895.47" width="6.2" height="25.13" fill="#fdd85c" stroke="#9a7a2c" stroke-width="1.1"/>
<line x1="504.25" y1="894.92" x2="504.25" y2="891.2" stroke="#9a7a2c" stroke-width="1"/>
<line x1="502.06" y1="891.2" x2="506.44" y2="891.2" stroke="#9a7a2c" stroke-width="1"/>
<circle cx="504.25" cy="891.75" r="1.7" fill="none" stroke="#9a7a2c" stroke-width="1"/>
<circle cx="503.67" cy="893.8" r="1.7" fill="none" stroke="#9a7a2c" stroke-width="1"/>
<circle cx="504.83" cy="896.6" r="1.7" fill="none" stroke="#9a7a2c" stroke-width="1"/>
<rect x="511.65" y="887.12" width="6.2" height="33.48" fill="#d6eedf" stroke="#5e9a8d" stroke-width="1.1"/>
<line x1="514.75" y1="886.57" x2="514.75" y2="882.27" stroke="#5e9a8d" stroke-width="1"/>
<line x1="512.56" y1="882.27" x2="516.94" y2="882.27" stroke="#5e9a8d" stroke-width="1"/>
<circle cx="514.75" cy="882.91" r="1.7" fill="none" stroke="#5e9a8d" stroke-width="1"/>
<circle cx="514.17" cy="885.28" r="1.7" fill="none" stroke="#5e9a8d" stroke-width="1"/>
<circle cx="515.33" cy="888.51" r="1.7" fill="none" stroke="#5e9a8d" stroke-width="1"/>
<rect x="529.25" y="840.26" width="6.2" height="80.34" fill="#444444" stroke="#111111" stroke-width="1.1"/>
<line x1="532.35" y1="839.71" x2="532.35" y2="832.12" stroke="#111111" stroke-width="1"/>
<line x1="530.16" y1="832.12" x2="534.54" y2="832.12" stroke="#111111" stroke-width="1"/>
<circle cx="532.35" cy="833.26" r="1.7" fill="none" stroke="#111111" stroke-width="1"/>
<circle cx="531.77" cy="837.43" r="1.7" fill="none" stroke="#111111" stroke-width="1"/>
<circle cx="532.93" cy="843.12" r="1.7" fill="none" stroke="#e8e8e8" stroke-width="1"/>
<rect x="539.75" y="875.57" width="6.2" height="45.03" fill="#2478a7" stroke="#0e4664" stroke-width="1.1"/>
<line x1="542.85" y1="875.02" x2="542.85" y2="869.9" stroke="#0e4664" stroke-width="1"/>
<line x1="540.66" y1="869.9" x2="545.04" y2="869.9" stroke="#0e4664" stroke-width="1"/>
<circle cx="542.85" cy="870.67" r="1.7" fill="none" stroke="#0e4664" stroke-width="1"/>
<circle cx="542.27" cy="873.48" r="1.7" fill="none" stroke="#0e4664" stroke-width="1"/>
<circle cx="543.43" cy="877.32" r="1.7" fill="none" stroke="#0e4664" stroke-width="1"/>
<rect x="550.25" y="851.17" width="6.2" height="69.43" fill="#fdd85c" stroke="#9a7a2c" stroke-width="1.1"/>
<line x1="553.35" y1="850.62" x2="553.35" y2="843.8" stroke="#9a7a2c" stroke-width="1"/>
<line x1="551.16" y1="843.8" x2="555.54" y2="843.8" stroke="#9a7a2c" stroke-width="1"/>
<circle cx="553.35" cy="844.82" r="1.7" fill="none" stroke="#9a7a2c" stroke-width="1"/>
<circle cx="552.77" cy="848.57" r="1.7" fill="none" stroke="#9a7a2c" stroke-width="1"/>
<circle cx="553.93" cy="853.69" r="1.7" fill="none" stroke="#9a7a2c" stroke-width="1"/>
<rect x="560.75" y="824.85" width="6.2" height="95.75" fill="#d6eedf" stroke="#5e9a8d" stroke-width="1.1"/>
<line x1="563.85" y1="824.3" x2="563.85" y2="815.63" stroke="#5e9a8d" stroke-width="1"/>
<line x1="561.66" y1="815.63" x2="566.04" y2="815.63" stroke="#5e9a8d" stroke-width="1"/>
<circle cx="563.85" cy="816.93" r="1.7" fill="none" stroke="#5e9a8d" stroke-width="1"/>
<circle cx="563.27" cy="821.7" r="1.7" fill="none" stroke="#5e9a8d" stroke-width="1"/>
<circle cx="564.43" cy="828.2" r="1.7" fill="none" stroke="#5e9a8d" stroke-width="1"/>
<text x="132" y="934" font-size="13.5" font-weight="bold" text-anchor="middle" fill="#000" stroke="#000" stroke-width="0.18">PAR</text>
<text x="180.6" y="934" font-size="13.5" font-weight="bold" text-anchor="middle" fill="#000" stroke="#000" stroke-width="0.18">PARP1</text>
<text x="229.3" y="934" font-size="13.5" font-weight="bold" text-anchor="middle" fill="#000" stroke="#000" stroke-width="0.18">MYOG</text>
<text x="288" y="934" font-size="13.5" font-weight="bold" text-anchor="middle" fill="#000" stroke="#000" stroke-width="0.18">PAR</text>
<text x="337.4" y="934" font-size="13.5" font-weight="bold" text-anchor="middle" fill="#000" stroke="#000" stroke-width="0.18">PARP1</text>
<text x="386.4" y="934" font-size="13.5" font-weight="bold" text-anchor="middle" fill="#000" stroke="#000" stroke-width="0.18">MYOG</text>
<text x="450" y="934" font-size="13.5" font-weight="bold" text-anchor="middle" fill="#000" stroke="#000" stroke-width="0.18">PAR</text>
<text x="499" y="934" font-size="13.5" font-weight="bold" text-anchor="middle" fill="#000" stroke="#000" stroke-width="0.18">PARP1</text>
<text x="548.1" y="934" font-size="13.5" font-weight="bold" text-anchor="middle" fill="#000" stroke="#000" stroke-width="0.18">MYOG</text>
<text x="180.9" y="769.2" font-size="16.2" font-weight="bold" text-anchor="middle" fill="#000" stroke="#000" stroke-width="0.2">Day 1</text>
<line x1="116.6" y1="775" x2="246.3" y2="775" stroke="#000" stroke-width="2.2"/>
<text x="344.4" y="769.2" font-size="16.2" font-weight="bold" text-anchor="middle" fill="#000" stroke="#000" stroke-width="0.2">Day 3</text>
<line x1="279.5" y1="775" x2="409.2" y2="775" stroke="#000" stroke-width="2.2"/>
<text x="502.9" y="769.2" font-size="16.2" font-weight="bold" text-anchor="middle" fill="#000" stroke="#000" stroke-width="0.2">Day 6</text>
<line x1="437.6" y1="775" x2="567.7" y2="775" stroke="#000" stroke-width="2.2"/>
<line x1="115.4" y1="799.7" x2="148.6" y2="799.7" stroke="#000" stroke-width="1.3"/>
<text x="132" y="801.92" font-size="9" font-weight="bold" text-anchor="middle" fill="#000">***</text>
<line x1="115" y1="809" x2="137.6" y2="809" stroke="#000" stroke-width="1.3"/>
<text x="126.3" y="811.22" font-size="9" font-weight="bold" text-anchor="middle" fill="#000">***</text>
<line x1="120.3" y1="871.5" x2="130.6" y2="871.5" stroke="#000" stroke-width="1.3"/>
<text x="125.45" y="873.72" font-size="9" font-weight="bold" text-anchor="middle" fill="#000">***</text>
<line x1="164" y1="829.2" x2="197.2" y2="829.2" stroke="#000" stroke-width="1.3"/>
<text x="180.6" y="827.8" font-size="5.5" font-weight="bold" text-anchor="middle" fill="#000">NS</text>
<line x1="164" y1="837.8" x2="186" y2="837.8" stroke="#000" stroke-width="1.3"/>
<text x="175" y="836.4" font-size="5.5" font-weight="bold" text-anchor="middle" fill="#000">NS</text>
<line x1="170.3" y1="861.7" x2="178.7" y2="861.7" stroke="#000" stroke-width="1.3"/>
<text x="174.5" y="860.3" font-size="5.5" font-weight="bold" text-anchor="middle" fill="#000">NS</text>
<line x1="212.7" y1="882.9" x2="246" y2="882.9" stroke="#000" stroke-width="1.3"/>
<text x="229.35" y="881.5" font-size="5.5" font-weight="bold" text-anchor="middle" fill="#000">NS</text>
<line x1="212.7" y1="891.8" x2="234.4" y2="891.8" stroke="#000" stroke-width="1.3"/>
<text x="223.55" y="890.4" font-size="5.5" font-weight="bold" text-anchor="middle" fill="#000">NS</text>
<line x1="215" y1="901.6" x2="224.6" y2="901.6" stroke="#000" stroke-width="1.3"/>
<text x="219.8" y="900.2" font-size="5.5" font-weight="bold" text-anchor="middle" fill="#000">NS</text>
<line x1="274.9" y1="855.8" x2="308" y2="855.8" stroke="#000" stroke-width="1.3"/>
<text x="291.45" y="858.02" font-size="9" font-weight="bold" text-anchor="middle" fill="#000">***</text>
<line x1="274" y1="865" x2="297" y2="865" stroke="#000" stroke-width="1.3"/>
<text x="285.5" y="867.22" font-size="9" font-weight="bold" text-anchor="middle" fill="#000">***</text>
<line x1="277.2" y1="887.8" x2="287" y2="887.8" stroke="#000" stroke-width="1.3"/>
<text x="282.1" y="890.02" font-size="9" font-weight="bold" text-anchor="middle" fill="#000">***</text>
<line x1="321" y1="854.6" x2="354.8" y2="854.6" stroke="#000" stroke-width="1.3"/>
<text x="337.9" y="853.2" font-size="5.5" font-weight="bold" text-anchor="middle" fill="#000">NS</text>
<line x1="321" y1="863.3" x2="343.8" y2="863.3" stroke="#000" stroke-width="1.3"/>
<text x="332.4" y="861.9" font-size="5.5" font-weight="bold" text-anchor="middle" fill="#000">NS</text>
<line x1="323.5" y1="883.8" x2="332.8" y2="883.8" stroke="#000" stroke-width="1.3"/>
<text x="328.15" y="882.4" font-size="5.5" font-weight="bold" text-anchor="middle" fill="#000">NS</text>
<line x1="373.5" y1="806.7" x2="406.9" y2="806.7" stroke="#000" stroke-width="1.3"/>
<text x="390.2" y="805.3" font-size="5.5" font-weight="bold" text-anchor="middle" fill="#000">NS</text>
<line x1="373" y1="815.6" x2="395.9" y2="815.6" stroke="#000" stroke-width="1.3"/>
<text x="384.45" y="814.2" font-size="5.5" font-weight="bold" text-anchor="middle" fill="#000">NS</text>
<line x1="371.8" y1="826.1" x2="381.2" y2="826.1" stroke="#000" stroke-width="1.3"/>
<text x="376.5" y="828.32" font-size="9" font-weight="bold" text-anchor="middle" fill="#000">**</text>
<line x1="431" y1="886.2" x2="465" y2="886.2" stroke="#000" stroke-width="1.3"/>
<text x="448" y="884.8" font-size="5.5" font-weight="bold" text-anchor="middle" fill="#000">ns</text>
<line x1="431" y1="894.8" x2="454" y2="894.8" stroke="#000" stroke-width="1.3"/>
<text x="442.5" y="893.4" font-size="5.5" font-weight="bold" text-anchor="middle" fill="#000">ns</text>
<line x1="433.8" y1="904.4" x2="443.4" y2="904.4" stroke="#000" stroke-width="1.3"/>
<text x="438.6" y="903" font-size="5.5" font-weight="bold" text-anchor="middle" fill="#000">ns</text>
<line x1="480" y1="868" x2="513.5" y2="868" stroke="#000" stroke-width="1.3"/>
<text x="496.75" y="866.6" font-size="5.5" font-weight="bold" text-anchor="middle" fill="#000">ns</text>
<line x1="480" y1="876" x2="503" y2="876" stroke="#000" stroke-width="1.3"/>
<text x="491.5" y="874.6" font-size="5.5" font-weight="bold" text-anchor="middle" fill="#000">ns</text>
<line x1="483" y1="886.6" x2="492.5" y2="886.6" stroke="#000" stroke-width="1.3"/>
<text x="487.75" y="885.2" font-size="5.5" font-weight="bold" text-anchor="middle" fill="#000">ns</text>
<line x1="530.8" y1="815.4" x2="564.2" y2="815.4" stroke="#000" stroke-width="1.3"/>
<text x="547.5" y="814" font-size="5.5" font-weight="bold" text-anchor="middle" fill="#000">ns</text>
<line x1="530.8" y1="823.6" x2="553.7" y2="823.6" stroke="#000" stroke-width="1.3"/>
<text x="542.25" y="822.2" font-size="5.5" font-weight="bold" text-anchor="middle" fill="#000">ns</text>
<line x1="536" y1="858" x2="545.5" y2="858" stroke="#000" stroke-width="1.3"/>
<text x="540.75" y="858.77" font-size="6.5" font-weight="bold" text-anchor="middle" fill="#000">**</text>
<rect x="594.4" y="820.6" width="11" height="10.3" fill="#444444" stroke="#111111" stroke-width="1.2"/>
<text x="610.5" y="828.92" font-size="8.8" font-weight="bold" text-anchor="start" fill="#000" stroke="#000" stroke-width="0.1">Vehicle</text>
<rect x="594.4" y="837.6" width="11" height="10.3" fill="#2478a7" stroke="#0e4664" stroke-width="1.2"/>
<text x="610.5" y="845.92" font-size="8.8" font-weight="bold" text-anchor="start" fill="#000" stroke="#000" stroke-width="0.1">PJ34</text>
<rect x="594.4" y="852.9" width="11" height="10.3" fill="#fdd85c" stroke="#9a7a2c" stroke-width="1.2"/>
<text x="610.5" y="861.22" font-size="8.8" font-weight="bold" text-anchor="start" fill="#000" stroke="#000" stroke-width="0.1"> DEX</text>
<rect x="594.4" y="868.1" width="11" height="10.3" fill="#d6eedf" stroke="#5e9a8d" stroke-width="1.2"/>
<text x="610.5" y="876.42" font-size="8.8" font-weight="bold" text-anchor="start" fill="#000" stroke="#000" stroke-width="0.1">PJ34 + DEX</text></svg>
</body></html>
